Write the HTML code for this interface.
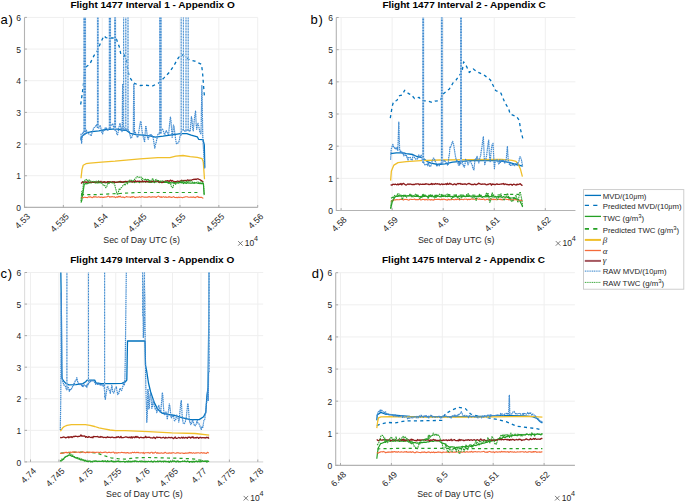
<!DOCTYPE html>
<html><head><meta charset="utf-8"><style>
html,body{margin:0;padding:0;background:#fff;}
svg{display:block;}
text{font-family:"Liberation Sans", sans-serif;fill:#262626;}
.tk{font-size:8.5px;}
.tt{font-size:9.2px;font-weight:bold;fill:#000;}
.xl{font-size:8.5px;}
.pl{font-size:13px;fill:#000;letter-spacing:0.6px;}
.lg{font-size:7.8px;}
</style></head><body>
<svg width="685" height="502" viewBox="0 0 685 502">
<path d="M24.50 207.40H257.70M24.50 175.73H257.70M24.50 144.07H257.70M24.50 112.40H257.70M24.50 80.73H257.70M24.50 49.07H257.70M24.50 17.40H257.70M24.50 17.40V207.40M63.37 17.40V207.40M102.23 17.40V207.40M141.10 17.40V207.40M179.97 17.40V207.40M218.83 17.40V207.40M257.70 17.40V207.40" stroke="#efefef" stroke-width="1.0" fill="none"/>
<path d="M336.30 210.50H575.40M336.30 178.33H575.40M336.30 146.17H575.40M336.30 114.00H575.40M336.30 81.83H575.40M336.30 49.67H575.40M336.30 17.50H575.40M341.10 17.50V210.50M392.15 17.50V210.50M443.20 17.50V210.50M494.25 17.50V210.50M545.30 17.50V210.50" stroke="#efefef" stroke-width="1.0" fill="none"/>
<path d="M24.60 461.90H263.20M24.60 430.33H263.20M24.60 398.77H263.20M24.60 367.20H263.20M24.60 335.63H263.20M24.60 304.07H263.20M24.60 272.50H263.20M30.50 272.50V461.90M58.91 272.50V461.90M87.33 272.50V461.90M115.74 272.50V461.90M144.15 272.50V461.90M172.56 272.50V461.90M200.98 272.50V461.90M229.39 272.50V461.90M257.80 272.50V461.90" stroke="#efefef" stroke-width="1.0" fill="none"/>
<path d="M335.70 465.40H574.90M335.70 433.28H574.90M335.70 401.17H574.90M335.70 369.05H574.90M335.70 336.93H574.90M335.70 304.82H574.90M335.70 272.70H574.90M340.50 272.70V465.40M391.40 272.70V465.40M442.30 272.70V465.40M493.20 272.70V465.40M544.10 272.70V465.40" stroke="#efefef" stroke-width="1.0" fill="none"/>
<path d="M24.50 17.40V207.40H257.70" stroke="#b3b3b3" stroke-width="1.1" fill="none"/>
<path d="M24.50 207.40h2.4M24.50 175.73h2.4M24.50 144.07h2.4M24.50 112.40h2.4M24.50 80.73h2.4M24.50 49.07h2.4M24.50 17.40h2.4M24.50 207.40v-2.4M63.37 207.40v-2.4M102.23 207.40v-2.4M141.10 207.40v-2.4M179.97 207.40v-2.4M218.83 207.40v-2.4M257.70 207.40v-2.4" stroke="#aaaaaa" stroke-width="1" fill="none"/>
<path d="M336.30 17.50V210.50H575.40" stroke="#b3b3b3" stroke-width="1.1" fill="none"/>
<path d="M336.30 210.50h2.4M336.30 178.33h2.4M336.30 146.17h2.4M336.30 114.00h2.4M336.30 81.83h2.4M336.30 49.67h2.4M336.30 17.50h2.4M341.10 210.50v-2.4M392.15 210.50v-2.4M443.20 210.50v-2.4M494.25 210.50v-2.4M545.30 210.50v-2.4" stroke="#aaaaaa" stroke-width="1" fill="none"/>
<path d="M24.60 272.50V461.90H263.20" stroke="#dedede" stroke-width="1.1" fill="none"/>
<path d="M24.60 461.90h2.4M24.60 430.33h2.4M24.60 398.77h2.4M24.60 367.20h2.4M24.60 335.63h2.4M24.60 304.07h2.4M24.60 272.50h2.4M30.50 461.90v-2.4M58.91 461.90v-2.4M87.33 461.90v-2.4M115.74 461.90v-2.4M144.15 461.90v-2.4M172.56 461.90v-2.4M200.98 461.90v-2.4M229.39 461.90v-2.4M257.80 461.90v-2.4" stroke="#aaaaaa" stroke-width="1" fill="none"/>
<path d="M335.70 272.70V465.40H574.90" stroke="#b3b3b3" stroke-width="1.1" fill="none"/>
<path d="M335.70 465.40h2.4M335.70 433.28h2.4M335.70 401.17h2.4M335.70 369.05h2.4M335.70 336.93h2.4M335.70 304.82h2.4M335.70 272.70h2.4M340.50 465.40v-2.4M391.40 465.40v-2.4M442.30 465.40v-2.4M493.20 465.40v-2.4M544.10 465.40v-2.4" stroke="#aaaaaa" stroke-width="1" fill="none"/>
<defs>
<clipPath id="cpa"><rect x="24.5" y="17.4" width="233.20" height="191.50"/></clipPath>
<clipPath id="cpb"><rect x="336.3" y="17.5" width="239.10" height="194.50"/></clipPath>
<clipPath id="cpc"><rect x="24.6" y="272.5" width="238.60" height="190.90"/></clipPath>
<clipPath id="cpd"><rect x="335.7" y="272.7" width="239.20" height="194.20"/></clipPath>
</defs>
<g clip-path="url(#cpa)">
<polyline points="81.0,140.3 81.1,137.4 83.6,134.9 87.1,132.7 91.9,131.7 98.9,130.8 105.9,129.5 112.8,129.2 117.7,129.2 122.0,130.1 126.5,130.4 130.3,133.3 135.9,134.6 142.9,135.2 149.8,135.8 155.3,137.1 163.1,136.2 171.9,134.9 180.6,133.6 186.8,133.6 191.2,135.2 197.3,136.8 198.6,139.3 203.0,139.6 204.3,145.0 204.8,167.8" fill="none" stroke-linejoin="round" stroke="#0072bd" stroke-width="1.3"/>
<polyline points="80.6,104.5 81.0,102.6 83.1,87.4 84.9,69.7 86.5,66.5 89.7,64.3 94.1,55.4 97.4,51.0 100.7,42.4 104.0,35.8 106.0,37.7 108.3,38.0 116.0,38.0 119.3,46.8 120.8,54.1 123.6,54.1 126.5,58.9 127.4,67.4 129.1,76.3 133.5,83.0 140.0,85.5 145.5,85.2 152.1,86.1 158.7,83.0 164.2,77.6 169.7,71.9 174.1,65.2 178.5,57.6 181.7,54.4 186.1,57.6 189.4,59.8 194.8,61.1 201.4,64.3 202.5,71.9 204.0,91.5 204.5,96.6" fill="none" stroke-linejoin="round" stroke="#0072bd" stroke-width="1.3" stroke-dasharray="3.1 3.2"/>
<polyline points="81.0,202.6 81.8,200.3 82.6,195.2 83.4,189.8 84.2,184.3 85.0,183.9 85.8,183.5 86.6,183.8 87.4,183.6 88.2,183.0 89.0,183.1 89.8,182.5 90.6,182.8 91.4,182.8 92.2,182.5 93.0,182.3 93.8,182.4 94.6,182.4 95.4,182.9 96.2,182.8 97.0,182.3 97.8,183.0 98.6,182.6 99.4,182.4 100.2,182.8 101.0,182.4 101.8,182.6 102.6,182.2 103.4,182.4 104.2,182.6 105.0,182.6 105.8,182.8 106.6,182.5 107.4,182.8 108.2,182.3 109.0,182.6 109.8,182.2 110.6,182.4 111.4,182.5 112.2,182.3 113.0,182.1 113.8,182.1 114.6,182.5 115.4,182.3 116.2,182.3 117.0,182.0 117.8,182.3 118.6,182.0 119.4,182.1 120.2,182.3 121.0,182.4 121.8,182.1 122.6,182.5 123.4,182.4 124.2,181.5 125.0,181.9 125.8,182.1 126.6,181.9 127.4,181.9 128.2,181.9 129.0,182.0 129.8,182.1 130.6,182.0 131.4,181.7 132.2,182.0 133.0,181.6 133.8,181.4 134.6,182.6 135.4,181.8 136.2,181.6 137.0,181.7 137.8,181.8 138.6,181.6 139.4,182.6 140.2,181.8 141.0,181.5 141.8,181.6 142.6,181.8 143.4,181.7 144.2,181.5 145.0,181.9 145.8,181.9 146.6,181.5 147.4,181.7 148.2,182.1 149.0,182.2 149.8,182.5 150.6,181.7 151.4,182.4 152.2,181.9 153.0,181.9 153.8,181.9 154.6,182.7 155.4,181.9 156.2,182.0 157.0,182.0 157.8,181.0 158.6,181.9 159.4,182.6 160.2,182.5 161.0,182.1 161.8,182.6 162.6,182.3 163.4,182.3 164.2,182.5 165.0,182.4 165.8,182.5 166.6,182.2 167.4,182.3 168.2,182.7 169.0,182.5 169.8,182.2 170.6,182.6 171.4,182.8 172.2,182.8 173.0,182.5 173.8,182.9 174.6,182.4 175.4,183.0 176.2,182.8 177.0,183.0 177.8,182.7 178.6,183.1 179.4,182.5 180.2,182.7 181.0,182.3 181.8,182.9 182.6,182.5 183.4,183.5 184.2,182.6 185.0,182.7 185.8,183.1 186.6,183.3 187.4,182.6 188.2,183.1 189.0,182.8 189.8,183.2 190.6,183.2 191.4,183.0 192.2,183.2 193.0,182.8 193.8,183.3 194.6,183.2 195.4,183.0 196.2,183.0 197.0,183.0 197.8,183.3 198.6,183.3 199.4,183.2 200.2,183.4 201.0,183.7 201.8,183.7 202.6,183.7 203.4,183.6 204.2,195.1" fill="none" stroke-linejoin="round" stroke="#24a024" stroke-width="1.2"/>
<polyline points="81.0,194.7 95.4,194.7 110.0,193.8 120.0,193.5 136.3,192.5 170.0,192.5 198.5,192.5" fill="none" stroke-linejoin="round" stroke="#24a024" stroke-width="1.2" stroke-dasharray="3.1 3.2"/>
<polyline points="81.0,178.3 82.0,169.4 83.2,165.3 86.0,163.7 90.0,163.1 101.6,162.1 115.0,161.2 126.1,160.2 140.0,158.9 157.9,157.7 169.9,157.7 175.8,156.1 183.0,155.5 190.2,156.7 197.3,157.4 202.1,158.6 203.3,162.1 204.5,179.2" fill="none" stroke-linejoin="round" stroke="#f0bf2a" stroke-width="1.3"/>
<polyline points="81.0,198.3 81.8,197.6 82.6,197.1 83.4,197.8 84.2,197.3 85.0,197.2 85.8,197.5 86.6,197.5 87.4,197.6 88.2,197.1 89.0,196.8 89.8,197.2 90.6,196.8 91.4,197.3 92.2,197.7 93.0,197.3 93.8,196.5 94.6,197.1 95.4,196.7 96.2,196.9 97.0,197.3 97.8,197.1 98.6,196.8 99.4,197.0 100.2,197.5 101.0,197.1 101.8,197.0 102.6,197.4 103.4,197.5 104.2,197.0 105.0,197.1 105.8,197.0 106.6,196.9 107.4,196.7 108.2,196.0 109.0,196.4 109.8,197.3 110.6,196.8 111.4,196.9 112.2,196.5 113.0,196.9 113.8,197.0 114.6,196.7 115.4,197.6 116.2,197.2 117.0,196.7 117.8,197.4 118.6,196.3 119.4,196.9 120.2,196.1 121.0,197.1 121.8,197.2 122.6,197.1 123.4,197.0 124.2,197.7 125.0,197.3 125.8,197.0 126.6,196.5 127.4,197.0 128.2,197.0 129.0,197.0 129.8,197.0 130.6,197.5 131.4,196.7 132.2,197.3 133.0,196.5 133.8,196.7 134.6,197.4 135.4,197.6 136.2,197.2 137.0,197.0 137.8,197.2 138.6,197.1 139.4,196.6 140.2,197.2 141.0,197.2 141.8,196.6 142.6,196.7 143.4,197.0 144.2,197.1 145.0,197.2 145.8,197.1 146.6,197.3 147.4,197.0 148.2,197.1 149.0,196.5 149.8,197.0 150.6,197.1 151.4,197.1 152.2,196.9 153.0,196.7 153.8,197.0 154.6,196.8 155.4,197.0 156.2,197.5 157.0,196.8 157.8,196.5 158.6,196.1 159.4,196.6 160.2,197.4 161.0,196.7 161.8,197.5 162.6,197.1 163.4,196.6 164.2,197.1 165.0,197.4 165.8,196.8 166.6,197.4 167.4,197.3 168.2,197.3 169.0,196.5 169.8,197.1 170.6,197.1 171.4,197.4 172.2,197.4 173.0,196.9 173.8,196.6 174.6,197.5 175.4,197.5 176.2,197.6 177.0,197.2 177.8,197.7 178.6,197.1 179.4,197.5 180.2,197.3 181.0,197.3 181.8,197.5 182.6,197.7 183.4,197.2 184.2,197.3 185.0,196.9 185.8,196.8 186.6,196.8 187.4,196.8 188.2,197.2 189.0,197.2 189.8,197.3 190.6,197.0 191.4,197.1 192.2,197.4 193.0,196.9 193.8,197.1 194.6,197.4 195.4,197.6 196.2,196.9 197.0,197.0 197.8,196.4 198.6,197.4 199.4,197.4 200.2,197.4 201.0,197.4 201.8,197.3 202.6,198.0 203.4,198.3" fill="none" stroke-linejoin="round" stroke="#f46a3a" stroke-width="1.1"/>
<polyline points="81.0,183.5 81.8,182.7 82.6,181.7 83.4,182.7 84.2,181.9 85.0,182.0 85.8,181.9 86.6,182.4 87.4,182.1 88.2,181.8 89.0,182.1 89.8,182.2 90.6,182.2 91.4,182.1 92.2,181.9 93.0,182.4 93.8,182.1 94.6,181.8 95.4,182.1 96.2,182.1 97.0,182.0 97.8,182.1 98.6,181.6 99.4,181.9 100.2,181.9 101.0,181.3 101.8,182.5 102.6,182.2 103.4,182.3 104.2,181.6 105.0,182.0 105.8,182.1 106.6,182.4 107.4,181.6 108.2,181.9 109.0,181.7 109.8,181.9 110.6,181.8 111.4,182.1 112.2,182.0 113.0,181.7 113.8,182.2 114.6,181.7 115.4,182.4 116.2,182.3 117.0,182.2 117.8,182.2 118.6,181.9 119.4,181.7 120.2,181.5 121.0,181.6 121.8,182.3 122.6,181.8 123.4,182.0 124.2,182.0 125.0,181.4 125.8,181.4 126.6,181.6 127.4,182.0 128.2,181.2 129.0,181.5 129.8,181.2 130.6,181.2 131.4,181.6 132.2,181.8 133.0,182.0 133.8,181.3 134.6,181.3 135.4,180.7 136.2,181.8 137.0,181.4 137.8,181.2 138.6,181.5 139.4,181.1 140.2,181.3 141.0,181.9 141.8,181.9 142.6,180.7 143.4,181.8 144.2,181.5 145.0,181.1 145.8,182.0 146.6,180.9 147.4,181.7 148.2,181.5 149.0,181.6 149.8,181.7 150.6,181.9 151.4,181.5 152.2,181.1 153.0,181.6 153.8,181.4 154.6,181.6 155.4,181.2 156.2,181.1 157.0,181.2 157.8,181.2 158.6,182.0 159.4,181.8 160.2,181.5 161.0,181.8 161.8,182.5 162.6,182.3 163.4,181.5 164.2,182.1 165.0,181.2 165.8,181.0 166.6,181.1 167.4,180.7 168.2,180.8 169.0,181.6 169.8,180.8 170.6,180.1 171.4,181.2 172.2,180.5 173.0,181.1 173.8,181.3 174.6,182.0 175.4,181.6 176.2,181.9 177.0,181.3 177.8,181.0 178.6,181.4 179.4,181.6 180.2,180.9 181.0,181.2 181.8,180.3 182.6,181.1 183.4,180.5 184.2,180.8 185.0,180.3 185.8,180.6 186.6,180.8 187.4,179.9 188.2,180.2 189.0,180.6 189.8,180.2 190.6,180.1 191.4,180.4 192.2,179.6 193.0,179.7 193.8,179.2 194.6,179.4 195.4,179.1 196.2,179.5 197.0,178.9 197.8,178.9 198.6,179.2 199.4,179.5 200.2,179.8 201.0,180.4 201.8,180.9 202.6,181.3 203.4,181.6" fill="none" stroke-linejoin="round" stroke="#8c1a1a" stroke-width="1.3"/>
<polyline points="81.0,133.6 81.6,143.2 82.2,137.5 82.8,132.1 83.4,131.9 84.0,134.7 84.6,134.6 85.2,132.8 85.8,132.1 86.4,130.1 87.0,132.1 87.6,132.8 88.2,133.3 88.8,133.9 89.4,134.6 90.0,134.8 90.6,135.0 91.2,135.9 91.8,133.3 92.4,131.8 93.0,130.2 93.6,128.1 94.2,127.5 94.8,127.3 95.4,126.6 96.0,125.6 96.6,124.7 97.2,126.9 97.8,128.2 98.4,128.1 99.0,128.0 99.6,126.7 100.2,125.1 100.8,127.5 101.4,130.7 102.0,133.3 102.6,133.8 103.2,130.9 103.8,130.7 104.4,130.1 105.0,128.4 105.6,127.4 106.2,128.0 106.8,129.3 107.4,129.8 108.0,130.8 108.6,128.9 109.2,128.1 109.8,127.2 110.4,125.6 111.0,125.4 111.6,125.3 112.2,124.2 112.8,123.8 113.4,126.3 114.0,128.6 114.6,128.6 115.2,130.4 115.8,129.3 116.4,131.3 117.0,134.9 117.6,134.7 118.2,131.8 118.8,127.7 119.4,125.7 120.0,123.1 120.6,126.6 121.2,129.5 121.8,131.6 122.2,130.9 122.6,83.9 123.0,83.9 123.4,129.1 123.6,129.0 124.2,127.6 124.8,129.4 125.4,129.2 126.0,130.3 126.6,128.7 127.2,128.9 127.8,128.6 128.4,130.3 129.0,130.6 129.6,133.1 130.2,135.7 130.8,138.2 131.4,138.1 132.0,136.6 132.6,134.8 133.2,134.1 133.3,133.8 133.7,83.9 134.1,83.9 134.5,132.7 135.0,131.7 135.6,132.9 136.2,134.1 136.8,135.3 137.4,137.5 138.0,136.5 138.6,133.1 139.2,129.5 139.8,125.6 140.4,121.7 141.0,121.3 141.6,127.1 142.2,132.3 142.8,134.3 143.4,137.6 144.0,139.6 144.6,142.2 145.2,132.6 145.8,125.7 146.4,128.8 147.0,133.6 147.6,137.9 148.2,139.3 148.8,137.2 149.4,136.1 150.0,134.3 150.6,136.0 151.2,134.6 151.8,135.0 152.4,136.5 153.0,136.6 153.6,140.6 154.2,144.4 154.8,148.2 155.4,144.8 156.0,143.2 156.6,140.1 157.2,137.9 157.8,134.6 158.4,133.9 159.0,133.1 159.6,133.8 160.2,132.8 160.8,132.2 161.4,130.1 162.0,129.6 162.6,129.2 163.2,130.7 163.8,132.1 164.4,134.6 165.0,134.2 165.6,132.5 166.2,130.6 166.8,131.6 167.4,132.8 168.0,134.2 168.6,134.3 169.2,127.9 169.8,122.2 170.4,117.1 171.0,120.7 171.6,129.2 172.2,137.5 172.8,133.3 173.4,125.0 174.0,125.7 174.6,131.4 175.2,136.2 175.8,140.4 176.4,143.6 177.0,142.8 177.6,143.2 178.2,142.8 178.8,142.1 179.4,139.7 180.0,136.2 180.6,135.2 181.2,131.9 181.8,130.7 182.4,130.0 183.0,129.9 183.6,130.1 184.2,130.5 184.8,131.2 185.4,130.4 186.0,131.0 186.6,130.6 187.2,129.9 187.8,130.2 188.4,129.4 189.0,130.9 189.6,131.3 190.2,130.7 190.8,123.8 191.4,116.6 192.0,119.3 192.6,127.9 193.2,130.9 193.8,125.4 194.4,118.9 195.0,114.3 195.6,111.0 196.2,125.1 196.8,129.3 197.4,124.1 198.0,123.3 198.6,125.7 199.2,128.3 199.8,131.8 200.4,133.1 201.0,133.8 201.3,117.8 201.9,85.5 202.5,120.3 202.8,137.9 203.4,148.0 204.0,157.0 204.6,168.7" fill="none" stroke-linejoin="round" stroke="#3f8ad0" stroke-width="1.2" stroke-dasharray="1.5 0.6"/>
<polyline points="81.0,201.0 81.8,191.3 82.6,195.2 83.4,182.6 84.2,180.5 85.0,180.3 85.8,179.2 86.6,179.9 87.4,179.6 88.2,182.0 89.0,179.7 89.8,181.4 90.6,181.0 91.4,181.7 92.2,182.0 93.0,181.4 93.8,181.3 94.6,182.2 95.4,182.1 96.2,181.2 97.0,182.2 97.8,182.6 98.6,180.8 99.4,181.5 100.2,182.5 101.0,182.4 101.8,182.9 102.6,184.2 103.4,185.4 104.2,185.3 105.0,185.7 105.8,187.7 106.6,187.1 107.4,184.6 108.2,183.0 109.0,183.5 109.8,182.5 110.6,181.8 111.4,182.5 112.2,182.9 113.0,182.8 113.8,183.8 114.6,183.9 115.4,187.8 116.2,190.5 117.0,193.8 117.8,194.8 118.6,191.3 119.4,188.3 120.2,189.3 121.0,187.9 121.8,187.1 122.6,186.0 123.4,185.3 124.2,184.2 125.0,185.4 125.8,183.3 126.6,182.7 127.4,183.9 128.2,181.6 129.0,181.5 129.8,180.0 130.6,180.8 131.4,180.4 132.2,180.0 133.0,180.9 133.8,179.7 134.6,179.5 135.4,178.0 136.2,178.0 137.0,176.6 137.8,176.9 138.6,177.6 139.4,177.3 140.2,177.0 141.0,176.9 141.8,179.9 142.6,178.3 143.4,178.9 144.2,179.6 145.0,180.4 145.8,178.7 146.6,180.8 147.4,179.4 148.2,178.9 149.0,181.3 149.8,180.4 150.6,181.2 151.4,180.1 152.2,179.1 153.0,178.8 153.8,181.8 154.6,180.9 155.4,180.0 156.2,179.3 157.0,180.3 157.8,181.3 158.6,180.5 159.4,180.8 160.2,181.0 161.0,181.5 161.8,180.8 162.6,181.0 163.4,181.4 164.2,181.6 165.0,182.6 165.8,182.1 166.6,180.9 167.4,182.1 168.2,183.5 169.0,182.3 169.8,183.9 170.6,183.7 171.4,186.7 172.2,187.8 173.0,187.3 173.8,183.9 174.6,182.2 175.4,184.4 176.2,183.7 177.0,182.2 177.8,182.9 178.6,182.2 179.4,182.2 180.2,181.7 181.0,180.9 181.8,181.7 182.6,180.9 183.4,181.9 184.2,181.2 185.0,183.1 185.8,182.6 186.6,180.9 187.4,182.1 188.2,181.2 189.0,181.3 189.8,180.7 190.6,181.1 191.4,181.0 192.2,182.0 193.0,182.5 193.8,182.6 194.6,182.4 195.4,183.0 196.2,182.5 197.0,182.1 197.8,181.9 198.6,182.3 199.4,183.6 200.2,182.2 201.0,182.1 201.8,181.5 202.6,182.1 203.4,183.2 204.2,194.3" fill="none" stroke-linejoin="round" stroke="#2ca02c" stroke-width="1.1" stroke-dasharray="1.5 0.7"/>
<path d="M84.70 131.93V7.90" stroke="#a9cbea" stroke-width="2.80" fill="none"/>
<path d="M84.70 131.93V7.90" stroke="#3f8ad0" stroke-width="2.38" stroke-dasharray="1.4 1.4" fill="none"/>
<path d="M97.80 128.03V7.90" stroke="#a9cbea" stroke-width="1.90" fill="none"/>
<path d="M97.80 128.03V7.90" stroke="#3f8ad0" stroke-width="1.61" stroke-dasharray="1.4 1.4" fill="none"/>
<path d="M109.90 128.67V7.90" stroke="#a9cbea" stroke-width="2.40" fill="none"/>
<path d="M109.90 128.67V7.90" stroke="#3f8ad0" stroke-width="2.04" stroke-dasharray="1.4 1.4" fill="none"/>
<path d="M115.10 130.32V7.90" stroke="#a9cbea" stroke-width="2.10" fill="none"/>
<path d="M115.10 130.32V7.90" stroke="#3f8ad0" stroke-width="1.78" stroke-dasharray="1.4 1.4" fill="none"/>
<path d="M123.60 129.73V7.90" stroke="#a9cbea" stroke-width="1.20" fill="none"/>
<path d="M123.60 129.73V7.90" stroke="#3f8ad0" stroke-width="1.02" stroke-dasharray="1.4 1.4" fill="none"/>
<path d="M125.80 129.35V7.90" stroke="#a9cbea" stroke-width="1.20" fill="none"/>
<path d="M125.80 129.35V7.90" stroke="#3f8ad0" stroke-width="1.02" stroke-dasharray="1.4 1.4" fill="none"/>
<path d="M128.00 130.51V7.90" stroke="#a9cbea" stroke-width="1.20" fill="none"/>
<path d="M128.00 130.51V7.90" stroke="#3f8ad0" stroke-width="1.02" stroke-dasharray="1.4 1.4" fill="none"/>
<path d="M160.40 133.47V7.90" stroke="#a9cbea" stroke-width="2.70" fill="none"/>
<path d="M160.40 133.47V7.90" stroke="#3f8ad0" stroke-width="2.29" stroke-dasharray="1.4 1.4" fill="none"/>
<path d="M181.20 135.41V7.90" stroke="#a9cbea" stroke-width="1.10" fill="none"/>
<path d="M181.20 135.41V7.90" stroke="#3f8ad0" stroke-width="0.93" stroke-dasharray="1.4 1.4" fill="none"/>
<path d="M183.40 130.43V7.90" stroke="#a9cbea" stroke-width="1.10" fill="none"/>
<path d="M183.40 130.43V7.90" stroke="#3f8ad0" stroke-width="0.93" stroke-dasharray="1.4 1.4" fill="none"/>
<path d="M186.00 130.56V7.90" stroke="#a9cbea" stroke-width="1.10" fill="none"/>
<path d="M186.00 130.56V7.90" stroke="#3f8ad0" stroke-width="0.93" stroke-dasharray="1.4 1.4" fill="none"/>
<path d="M188.20 130.67V7.90" stroke="#a9cbea" stroke-width="1.10" fill="none"/>
<path d="M188.20 130.67V7.90" stroke="#3f8ad0" stroke-width="0.93" stroke-dasharray="1.4 1.4" fill="none"/>
</g>
<g clip-path="url(#cpb)">
<polyline points="390.6,153.6 396.3,152.9 402.9,152.9 406.2,153.6 412.7,154.5 416.8,156.5 422.5,157.7 427.3,161.6 431.0,163.2 437.9,164.5 445.0,163.9 452.7,162.2 469.7,160.6 490.8,160.3 503.5,161.3 510.0,162.6 516.2,164.5 522.6,166.1" fill="none" stroke-linejoin="round" stroke="#0072bd" stroke-width="1.3"/>
<polyline points="390.3,118.2 392.2,106.3 393.5,101.8 396.8,100.5 399.5,95.7 402.1,95.0 404.7,90.2 408.7,93.7 411.3,94.7 414.6,98.6 419.2,97.3 420.5,99.2 424.4,100.8 427.0,100.8 432.3,102.4 434.9,101.1 440.2,100.5 443.5,93.7 449.4,88.9 453.3,82.5 456.0,80.2 458.8,76.0 462.0,72.2 463.6,61.9 466.7,66.7 469.3,72.5 473.3,69.0 477.2,71.9 483.8,74.8 490.4,79.9 495.6,90.5 500.9,93.1 504.8,102.4 508.7,108.9 510.1,114.0 516.6,116.6 519.3,120.4 520.6,129.8 522.8,138.4" fill="none" stroke-linejoin="round" stroke="#0072bd" stroke-width="1.3" stroke-dasharray="3.1 3.2"/>
<polyline points="390.6,208.8 391.4,205.4 392.2,202.0 393.0,200.7 393.8,198.9 394.6,197.6 395.4,196.6 396.2,196.4 397.0,196.4 397.8,196.4 398.6,195.8 399.4,196.0 400.2,196.1 401.0,195.7 401.8,195.9 402.6,195.6 403.4,195.8 404.2,196.2 405.0,195.7 405.8,196.3 406.6,195.9 407.4,195.8 408.2,195.5 409.0,196.0 409.8,195.8 410.6,195.9 411.4,195.9 412.2,196.0 413.0,196.0 413.8,195.9 414.6,196.3 415.4,196.4 416.2,196.5 417.0,196.3 417.8,196.4 418.6,196.4 419.4,196.5 420.2,196.7 421.0,196.4 421.8,196.5 422.6,196.7 423.4,196.4 424.2,196.5 425.0,196.2 425.8,196.2 426.6,196.4 427.4,196.6 428.2,196.4 429.0,196.2 429.8,196.0 430.6,196.3 431.4,196.6 432.2,196.0 433.0,196.3 433.8,196.5 434.6,196.0 435.4,196.7 436.2,195.9 437.0,196.4 437.8,196.2 438.6,196.1 439.4,196.6 440.2,196.5 441.0,196.9 441.8,196.5 442.6,196.1 443.4,196.5 444.2,195.8 445.0,196.2 445.8,196.6 446.6,196.3 447.4,196.6 448.2,196.4 449.0,196.4 449.8,196.4 450.6,196.4 451.4,196.5 452.2,196.3 453.0,196.7 453.8,197.1 454.6,196.2 455.4,196.2 456.2,196.2 457.0,196.8 457.8,196.9 458.6,196.0 459.4,196.4 460.2,196.2 461.0,196.2 461.8,197.0 462.6,196.0 463.4,196.3 464.2,196.1 465.0,196.5 465.8,196.3 466.6,196.1 467.4,196.3 468.2,196.3 469.0,196.3 469.8,196.2 470.6,196.2 471.4,196.1 472.2,196.1 473.0,196.2 473.8,196.3 474.6,196.7 475.4,196.4 476.2,196.3 477.0,196.6 477.8,196.1 478.6,196.3 479.4,196.3 480.2,196.6 481.0,196.3 481.8,197.1 482.6,196.9 483.4,196.6 484.2,196.6 485.0,196.7 485.8,196.8 486.6,196.6 487.4,196.5 488.2,196.6 489.0,196.5 489.8,196.8 490.6,196.5 491.4,196.4 492.2,196.8 493.0,196.8 493.8,196.9 494.6,197.0 495.4,196.4 496.2,196.8 497.0,197.2 497.8,196.6 498.6,196.5 499.4,197.0 500.2,196.6 501.0,196.9 501.8,197.0 502.6,197.3 503.4,196.6 504.2,196.9 505.0,197.0 505.8,197.0 506.6,197.0 507.4,197.5 508.2,197.1 509.0,197.3 509.8,197.9 510.6,198.2 511.4,198.0 512.2,198.0 513.0,197.8 513.8,197.9 514.6,198.4 515.4,198.4 516.2,199.3 517.0,198.8 517.8,199.6 518.6,199.9 519.4,200.7 520.2,201.4 521.0,203.3 521.8,204.8 522.6,207.0" fill="none" stroke-linejoin="round" stroke="#24a024" stroke-width="1.2"/>
<polyline points="391.0,198.3 394.7,196.3 401.3,195.4 430.0,195.4 460.0,195.1 490.0,195.4 510.0,194.4 519.0,194.4" fill="none" stroke-linejoin="round" stroke="#24a024" stroke-width="1.2" stroke-dasharray="3.1 3.2"/>
<polyline points="390.6,180.6 391.4,170.9 393.9,165.1 398.0,162.6 406.2,161.6 420.9,160.6 440.0,160.0 470.0,159.7 501.4,159.4 512.0,160.3 516.0,161.3 518.4,164.5 520.5,169.3 522.4,176.7" fill="none" stroke-linejoin="round" stroke="#f0bf2a" stroke-width="1.3"/>
<polyline points="390.6,201.3 391.4,201.2 392.2,200.6 393.0,200.2 393.8,199.9 394.6,199.8 395.4,199.9 396.2,199.8 397.0,199.5 397.8,199.7 398.6,199.8 399.4,199.8 400.2,199.3 401.0,199.5 401.8,199.3 402.6,199.5 403.4,200.1 404.2,199.5 405.0,199.4 405.8,199.5 406.6,199.4 407.4,199.6 408.2,199.9 409.0,200.2 409.8,199.3 410.6,199.2 411.4,199.4 412.2,199.5 413.0,199.5 413.8,199.3 414.6,199.0 415.4,199.8 416.2,199.5 417.0,199.8 417.8,199.5 418.6,199.6 419.4,199.0 420.2,199.5 421.0,200.1 421.8,199.6 422.6,199.4 423.4,199.5 424.2,199.3 425.0,200.1 425.8,199.4 426.6,199.5 427.4,199.9 428.2,199.7 429.0,199.7 429.8,199.5 430.6,200.2 431.4,199.5 432.2,200.1 433.0,199.6 433.8,200.2 434.6,199.2 435.4,199.4 436.2,199.5 437.0,199.3 437.8,199.4 438.6,199.2 439.4,199.4 440.2,199.6 441.0,199.8 441.8,199.0 442.6,199.7 443.4,199.2 444.2,199.1 445.0,199.6 445.8,199.6 446.6,200.0 447.4,200.1 448.2,199.2 449.0,199.9 449.8,199.6 450.6,199.8 451.4,199.6 452.2,199.5 453.0,199.4 453.8,199.8 454.6,199.8 455.4,199.1 456.2,199.7 457.0,199.1 457.8,199.5 458.6,199.0 459.4,200.0 460.2,199.5 461.0,199.5 461.8,199.2 462.6,199.5 463.4,199.7 464.2,199.1 465.0,199.2 465.8,199.2 466.6,199.1 467.4,199.9 468.2,199.1 469.0,199.6 469.8,199.4 470.6,199.5 471.4,198.8 472.2,199.1 473.0,199.0 473.8,199.3 474.6,199.2 475.4,199.0 476.2,199.5 477.0,198.4 477.8,199.1 478.6,199.2 479.4,198.9 480.2,199.1 481.0,199.6 481.8,199.3 482.6,199.5 483.4,198.9 484.2,199.3 485.0,200.0 485.8,199.8 486.6,199.3 487.4,199.4 488.2,199.4 489.0,200.1 489.8,199.7 490.6,198.9 491.4,199.4 492.2,199.6 493.0,198.9 493.8,199.7 494.6,199.3 495.4,199.4 496.2,199.7 497.0,199.6 497.8,199.0 498.6,199.3 499.4,199.5 500.2,199.0 501.0,199.8 501.8,199.4 502.6,199.9 503.4,199.5 504.2,199.0 505.0,199.0 505.8,199.1 506.6,199.5 507.4,199.5 508.2,199.3 509.0,200.0 509.8,199.5 510.6,199.5 511.4,199.7 512.2,199.9 513.0,199.7 513.8,199.9 514.6,199.7 515.4,199.6 516.2,199.6 517.0,200.1 517.8,200.0 518.6,199.9 519.4,200.2 520.2,200.0 521.0,200.7 521.8,200.5 522.6,200.5" fill="none" stroke-linejoin="round" stroke="#f46a3a" stroke-width="1.1"/>
<polyline points="390.6,185.1 391.4,184.8 392.2,185.0 393.0,184.2 393.8,184.3 394.6,184.5 395.4,184.2 396.2,184.5 397.0,184.9 397.8,184.0 398.6,184.8 399.4,184.0 400.2,184.3 401.0,183.5 401.8,184.9 402.6,183.9 403.4,183.4 404.2,183.9 405.0,184.5 405.8,185.1 406.6,184.8 407.4,184.2 408.2,184.0 409.0,184.5 409.8,184.0 410.6,184.1 411.4,184.4 412.2,184.7 413.0,184.5 413.8,184.4 414.6,184.5 415.4,184.0 416.2,184.2 417.0,183.9 417.8,183.9 418.6,184.0 419.4,184.7 420.2,184.0 421.0,184.3 421.8,184.4 422.6,184.1 423.4,184.4 424.2,184.1 425.0,184.4 425.8,183.7 426.6,184.0 427.4,184.2 428.2,184.2 429.0,184.6 429.8,184.3 430.6,184.4 431.4,183.5 432.2,184.5 433.0,183.7 433.8,184.2 434.6,184.3 435.4,183.5 436.2,183.8 437.0,184.1 437.8,183.7 438.6,184.2 439.4,184.0 440.2,184.8 441.0,184.3 441.8,183.8 442.6,184.6 443.4,184.1 444.2,184.3 445.0,184.2 445.8,183.7 446.6,184.6 447.4,183.2 448.2,184.4 449.0,184.2 449.8,183.3 450.6,184.0 451.4,184.0 452.2,184.5 453.0,184.8 453.8,184.2 454.6,183.8 455.4,184.3 456.2,184.9 457.0,184.0 457.8,183.4 458.6,183.9 459.4,183.7 460.2,183.5 461.0,184.3 461.8,183.8 462.6,184.4 463.4,184.0 464.2,184.3 465.0,183.7 465.8,184.3 466.6,184.6 467.4,183.8 468.2,183.8 469.0,183.3 469.8,183.9 470.6,184.2 471.4,184.6 472.2,184.4 473.0,184.6 473.8,184.5 474.6,183.9 475.4,184.4 476.2,184.8 477.0,184.3 477.8,183.9 478.6,183.2 479.4,183.6 480.2,184.0 481.0,184.1 481.8,184.4 482.6,184.0 483.4,184.2 484.2,184.2 485.0,183.9 485.8,184.6 486.6,184.8 487.4,184.3 488.2,184.5 489.0,183.9 489.8,183.8 490.6,183.7 491.4,185.2 492.2,183.9 493.0,184.5 493.8,184.1 494.6,184.6 495.4,184.6 496.2,184.2 497.0,183.9 497.8,184.4 498.6,184.4 499.4,184.3 500.2,184.1 501.0,184.2 501.8,184.0 502.6,183.9 503.4,183.5 504.2,184.6 505.0,183.9 505.8,184.2 506.6,184.5 507.4,184.5 508.2,184.6 509.0,185.0 509.8,184.4 510.6,184.3 511.4,184.5 512.2,185.2 513.0,184.5 513.8,184.1 514.6,184.5 515.4,184.9 516.2,185.0 517.0,184.1 517.8,184.6 518.6,184.3 519.4,184.1 520.2,183.7 521.0,184.5 521.8,185.3 522.6,185.4" fill="none" stroke-linejoin="round" stroke="#8c1a1a" stroke-width="1.3"/>
<polyline points="390.6,159.8 391.2,149.1 391.8,147.6 392.4,145.2 393.0,144.5 393.6,147.0 394.2,147.3 394.8,148.7 395.4,148.8 396.0,147.7 396.6,149.0 397.2,147.4 397.8,150.5 398.3,136.8 398.8,122.0 399.3,138.6 399.6,149.1 400.2,151.4 400.8,150.8 401.4,153.4 402.0,151.9 402.6,154.3 403.2,154.1 403.8,155.9 404.4,152.4 405.0,154.9 405.6,155.4 406.2,154.8 406.8,157.6 407.4,157.1 408.0,160.2 408.6,157.5 409.2,158.1 409.8,157.9 410.4,157.4 411.0,159.6 411.6,159.1 412.2,159.8 412.8,156.7 413.4,154.5 414.0,156.2 414.6,157.7 415.2,158.3 415.8,159.2 416.4,159.4 417.0,159.3 417.6,158.0 418.2,158.0 418.8,154.8 419.4,157.3 420.0,156.9 420.6,155.7 421.2,155.1 421.8,157.7 422.4,160.2 423.0,161.7 423.6,163.0 424.2,162.9 424.8,164.9 425.4,164.1 426.0,164.6 426.6,163.8 427.2,163.8 427.8,165.8 428.4,162.5 429.0,164.9 429.6,166.0 430.2,166.7 430.8,166.1 431.4,164.0 432.0,161.6 432.6,160.4 433.2,158.1 433.8,158.3 434.4,158.4 435.0,160.9 435.6,162.0 436.2,164.0 436.8,166.5 437.4,165.2 438.0,164.2 438.6,164.0 439.2,165.8 439.8,163.8 440.4,163.6 441.0,164.0 441.6,161.1 442.2,163.5 442.8,162.1 443.4,160.8 444.0,160.4 444.6,161.8 445.2,161.2 445.8,162.1 446.4,163.3 447.0,163.7 447.6,165.2 448.2,164.9 448.8,156.7 449.4,154.7 450.0,146.6 450.6,147.2 451.2,145.2 451.8,144.0 452.1,142.6 452.7,141.3 453.3,143.7 453.6,144.0 454.2,148.4 454.8,152.1 455.4,156.2 456.0,158.8 456.6,160.5 457.2,160.1 457.8,162.5 458.4,165.1 459.0,161.8 459.6,165.2 460.2,161.1 460.8,164.1 461.4,161.9 462.0,160.8 462.6,163.3 463.2,165.9 463.8,165.3 464.4,167.2 465.0,164.5 465.6,159.3 466.2,160.4 466.8,161.1 467.4,162.3 468.0,164.9 468.6,163.3 469.2,162.2 469.8,160.9 470.4,160.5 471.0,162.2 471.6,164.2 472.2,165.0 472.8,167.8 473.4,169.3 474.0,169.8 474.6,163.2 475.2,158.6 475.8,158.6 476.4,159.2 477.0,156.3 477.6,157.8 478.2,160.4 478.8,163.0 479.4,160.7 480.0,157.3 480.6,156.1 481.2,150.9 481.8,148.1 482.4,143.2 482.8,139.9 483.4,136.8 484.0,151.4 484.2,157.0 484.8,164.7 485.4,161.9 486.0,158.5 486.6,155.8 487.2,150.7 487.8,145.8 488.1,143.5 488.7,140.1 489.3,151.7 489.6,157.3 490.2,161.6 490.8,154.9 491.4,149.1 492.0,145.0 492.4,144.2 493.0,143.3 493.6,154.7 493.8,158.3 494.4,168.6 495.0,162.9 495.6,160.7 496.2,159.7 496.8,159.5 497.4,160.1 498.0,161.6 498.6,163.8 499.2,164.3 499.8,159.5 500.4,162.3 501.0,161.4 501.6,160.4 502.2,161.2 502.8,159.5 503.4,161.8 504.0,160.6 504.6,163.5 505.2,161.1 505.8,161.5 506.4,157.4 506.9,151.8 507.4,146.5 507.9,155.1 508.2,160.2 508.8,162.3 509.4,164.6 510.0,163.1 510.6,165.5 511.2,164.7 511.8,165.1 512.4,164.4 513.0,165.1 513.6,164.4 514.2,165.3 514.8,165.7 515.4,163.7 516.0,164.0 516.6,163.8 517.2,163.2 517.8,165.0 518.4,161.7 519.0,161.1 519.6,157.1 520.2,156.6 520.8,158.1 521.4,159.6 522.0,162.8 522.6,166.4" fill="none" stroke-linejoin="round" stroke="#3f8ad0" stroke-width="1.2" stroke-dasharray="1.5 0.6"/>
<polyline points="390.6,208.1 391.4,201.4 392.2,200.2 393.0,200.4 393.8,197.2 394.6,195.6 395.4,195.3 396.2,196.1 397.0,195.3 397.8,193.5 398.6,193.8 399.4,194.2 400.2,195.3 401.0,195.0 401.8,198.5 402.6,199.5 403.4,195.9 404.2,195.7 405.0,195.9 405.8,196.4 406.6,197.3 407.4,196.1 408.2,196.0 409.0,195.8 409.8,194.2 410.6,193.9 411.4,196.8 412.2,195.8 413.0,197.0 413.8,195.6 414.6,196.1 415.4,194.2 416.2,194.0 417.0,195.0 417.8,196.5 418.6,196.7 419.4,198.1 420.2,198.8 421.0,196.6 421.8,197.3 422.6,194.4 423.4,194.2 424.2,196.5 425.0,194.8 425.8,196.6 426.6,196.1 427.4,196.6 428.2,198.8 429.0,196.7 429.8,196.4 430.6,194.8 431.4,196.5 432.2,194.5 433.0,196.9 433.8,196.8 434.6,198.0 435.4,196.4 436.2,197.5 437.0,195.0 437.8,195.9 438.6,195.0 439.4,194.2 440.2,195.1 441.0,195.0 441.8,194.0 442.6,196.1 443.4,195.9 444.2,196.2 445.0,195.1 445.8,195.5 446.6,194.8 447.4,193.9 448.2,193.9 449.0,195.6 449.8,194.6 450.6,197.5 451.4,198.2 452.2,198.7 453.0,196.1 453.8,196.8 454.6,196.9 455.4,196.5 456.2,194.8 457.0,196.9 457.8,197.7 458.6,196.6 459.4,198.9 460.2,198.5 461.0,197.7 461.8,197.7 462.6,196.9 463.4,195.1 464.2,196.4 465.0,196.7 465.8,196.8 466.6,194.8 467.4,194.5 468.2,193.7 469.0,195.0 469.8,195.7 470.6,196.6 471.4,197.0 472.2,196.9 473.0,197.9 473.8,197.9 474.6,196.6 475.4,198.4 476.2,200.5 477.0,196.4 477.8,196.7 478.6,197.0 479.4,194.3 480.2,194.6 481.0,195.8 481.8,196.5 482.6,197.5 483.4,197.1 484.2,196.4 485.0,196.7 485.8,195.1 486.6,192.7 487.4,194.7 488.2,193.5 489.0,197.9 489.8,202.5 490.6,200.6 491.4,195.7 492.2,192.7 493.0,194.9 493.8,195.7 494.6,196.3 495.4,197.7 496.2,197.8 497.0,198.9 497.8,199.6 498.6,197.3 499.4,196.9 500.2,195.8 501.0,193.7 501.8,197.2 502.6,198.5 503.4,199.3 504.2,200.4 505.0,197.6 505.8,197.2 506.6,196.8 507.4,193.2 508.2,195.3 509.0,198.7 509.8,197.6 510.6,199.5 511.4,201.7 512.2,200.8 513.0,201.3 513.8,197.6 514.6,198.2 515.4,195.9 516.2,195.5 517.0,198.8 517.8,202.5 518.6,199.1 519.4,194.0 520.2,191.8 521.0,195.5 521.8,199.9 522.6,205.9" fill="none" stroke-linejoin="round" stroke="#2ca02c" stroke-width="1.1" stroke-dasharray="1.5 0.7"/>
<path d="M423.20 162.95V7.85" stroke="#a9cbea" stroke-width="2.00" fill="none"/>
<path d="M423.20 162.95V7.85" stroke="#3f8ad0" stroke-width="1.70" stroke-dasharray="1.4 1.4" fill="none"/>
<path d="M441.80 163.90V7.85" stroke="#a9cbea" stroke-width="2.00" fill="none"/>
<path d="M441.80 163.90V7.85" stroke="#3f8ad0" stroke-width="1.70" stroke-dasharray="1.4 1.4" fill="none"/>
<path d="M461.00 161.82V7.85" stroke="#a9cbea" stroke-width="2.00" fill="none"/>
<path d="M461.00 161.82V7.85" stroke="#3f8ad0" stroke-width="1.70" stroke-dasharray="1.4 1.4" fill="none"/>
</g>
<g clip-path="url(#cpc)">
<polyline points="60.6,256.7 61.3,304.1 61.8,367.2 62.0,378.2 63.4,380.8 66.1,383.6 68.9,384.9 75.9,384.6 82.9,383.6 85.7,381.7 87.1,380.1 94.7,380.1 96.1,383.0 101.0,383.6 110.7,383.6 121.9,383.3 125.4,381.7 126.8,380.1 127.5,341.0 144.5,341.0 145.0,341.3 145.5,365.0 146.6,370.7 148.5,383.0 150.5,391.5 152.0,395.9 154.3,402.6 157.5,408.9 161.9,413.0 168.5,414.5 175.1,415.5 181.7,417.7 190.4,419.6 199.2,419.6 203.6,416.8 205.8,412.3 206.9,395.9 208.0,388.0 208.8,319.9 209.1,256.7" fill="none" stroke-linejoin="round" stroke="#0072bd" stroke-width="1.3"/>
<polyline points="60.4,461.2 61.2,460.9 62.0,460.5 62.8,459.1 63.6,459.1 64.4,457.7 65.2,457.3 66.0,456.3 66.8,456.4 67.6,455.9 68.4,455.5 69.2,455.0 70.0,455.3 70.8,455.6 71.6,456.2 72.4,456.3 73.2,456.4 74.0,457.1 74.8,457.6 75.6,457.6 76.4,457.9 77.2,458.5 78.0,458.8 78.8,458.8 79.6,459.2 80.4,459.9 81.2,459.7 82.0,459.9 82.8,459.9 83.6,460.3 84.4,461.0 85.2,460.1 86.0,461.2 86.8,461.0 87.6,461.6 88.4,461.7 89.2,461.0 90.0,461.0 90.8,461.4 91.6,461.6 92.4,461.6 93.2,461.1 94.0,461.0 94.8,461.1 95.6,460.9 96.4,461.1 97.2,461.4 98.0,461.3 98.8,461.4 99.6,461.5 100.4,461.5 101.2,461.2 102.0,461.5 102.8,460.7 103.6,461.7 104.4,461.3 105.2,460.8 106.0,461.6 106.8,461.5 107.6,460.7 108.4,461.6 109.2,461.4 110.0,461.3 110.8,461.0 111.6,460.7 112.4,461.6 113.2,461.3 114.0,461.3 114.8,461.7 115.6,461.5 116.4,461.5 117.2,461.1 118.0,461.5 118.8,460.8 119.6,461.7 120.4,461.5 121.2,461.6 122.0,461.5 122.8,461.5 123.6,461.3 124.4,461.6 125.2,461.8 126.0,461.5 126.8,461.6 127.6,461.9 128.4,461.0 129.2,461.6 130.0,461.4 130.8,461.4 131.6,461.8 132.4,461.5 133.2,461.6 134.0,460.9 134.8,461.3 135.6,460.9 136.4,461.5 137.2,461.3 138.0,461.6 138.8,461.5 139.6,461.4 140.4,461.8 141.2,461.2 142.0,461.0 142.8,461.5 143.6,461.6 144.4,461.7 145.2,461.6 146.0,461.2 146.8,461.7 147.6,461.7 148.4,461.3 149.2,461.6 150.0,461.6 150.8,461.4 151.6,461.2 152.4,462.0 153.2,461.6 154.0,461.2 154.8,461.2 155.6,461.5 156.4,461.5 157.2,461.7 158.0,461.4 158.8,461.6 159.6,461.3 160.4,461.1 161.2,461.6 162.0,461.4 162.8,461.3 163.6,461.2 164.4,461.5 165.2,461.6 166.0,461.4 166.8,461.7 167.6,461.6 168.4,461.3 169.2,462.4 170.0,461.5 170.8,460.9 171.6,461.8 172.4,461.5 173.2,461.1 174.0,461.1 174.8,461.2 175.6,461.8 176.4,461.9 177.2,461.3 178.0,460.9 178.8,462.0 179.6,461.6 180.4,461.7 181.2,461.5 182.0,461.3 182.8,461.0 183.6,461.3 184.4,461.5 185.2,461.3 186.0,461.6 186.8,461.6 187.6,461.1 188.4,461.4 189.2,461.6 190.0,461.5 190.8,461.5 191.6,461.9 192.4,461.8 193.2,461.4 194.0,461.4 194.8,461.7 195.6,461.4 196.4,461.1 197.2,461.9 198.0,461.3 198.8,461.1 199.6,461.5 200.4,461.8 201.2,461.6 202.0,461.2 202.8,461.0 203.6,461.5 204.4,461.5 205.2,461.5 206.0,461.4 206.8,461.4 207.6,461.0 208.4,461.5 209.2,461.5" fill="none" stroke-linejoin="round" stroke="#24a024" stroke-width="1.2"/>
<polyline points="60.8,453.1 70.0,452.4 78.4,452.1 90.0,452.4 97.0,453.1 104.0,455.6 111.0,457.8 118.0,458.7 125.0,459.1 131.0,458.4 136.8,457.8 148.5,457.5 160.0,457.8 183.5,458.4 195.2,459.1 204.5,461.0 209.2,461.3" fill="none" stroke-linejoin="round" stroke="#24a024" stroke-width="1.2" stroke-dasharray="3.1 3.2"/>
<polyline points="60.4,431.3 60.8,430.6 62.5,428.1 64.3,426.5 67.0,425.3 71.4,424.7 85.4,424.7 90.0,425.3 94.7,426.5 99.0,427.8 104.0,428.8 110.0,430.0 115.7,430.6 125.0,430.6 148.5,431.6 171.8,432.9 195.2,433.5 209.2,435.1" fill="none" stroke-linejoin="round" stroke="#f0bf2a" stroke-width="1.3"/>
<polyline points="60.1,452.9 60.9,453.5 61.7,453.4 62.5,453.1 63.3,452.7 64.1,453.1 64.9,452.3 65.7,452.6 66.5,452.4 67.3,452.6 68.1,452.5 68.9,452.4 69.7,453.4 70.5,452.1 71.3,452.3 72.1,452.5 72.9,451.7 73.7,452.1 74.5,451.9 75.3,452.4 76.1,452.0 76.9,452.2 77.7,452.3 78.5,452.0 79.3,452.2 80.1,452.8 80.9,452.2 81.7,452.1 82.5,451.8 83.3,451.8 84.1,452.6 84.9,452.1 85.7,452.9 86.5,452.4 87.3,452.0 88.1,452.2 88.9,452.8 89.7,452.0 90.5,452.3 91.3,452.4 92.1,452.2 92.9,452.0 93.7,452.4 94.5,452.2 95.3,452.6 96.1,452.4 96.9,452.3 97.7,452.3 98.5,452.3 99.3,452.7 100.1,452.1 100.9,452.3 101.7,452.8 102.5,452.8 103.3,452.3 104.1,452.5 104.9,452.1 105.7,452.0 106.5,452.5 107.3,452.9 108.1,452.4 108.9,452.4 109.7,452.3 110.5,452.8 111.3,452.6 112.1,452.2 112.9,452.2 113.7,452.0 114.5,453.1 115.3,452.9 116.1,452.6 116.9,453.2 117.7,452.7 118.5,452.6 119.3,452.8 120.1,452.8 120.9,452.6 121.7,452.3 122.5,452.5 123.3,452.8 124.1,452.4 124.9,452.9 125.7,452.7 126.5,452.9 127.3,452.5 128.1,452.6 128.9,453.2 129.7,453.0 130.5,452.9 131.3,453.1 132.1,452.4 132.9,452.4 133.7,452.7 134.5,452.1 135.3,452.7 136.1,452.8 136.9,452.2 137.7,452.6 138.5,452.4 139.3,452.8 140.1,453.1 140.9,452.8 141.7,452.8 142.5,453.1 143.3,452.4 144.1,453.7 144.9,452.8 145.7,452.7 146.5,452.8 147.3,452.7 148.1,452.4 148.9,452.9 149.7,453.1 150.5,452.9 151.3,452.2 152.1,452.3 152.9,453.4 153.7,452.7 154.5,453.0 155.3,452.1 156.1,452.5 156.9,453.5 157.7,452.5 158.5,453.3 159.3,453.0 160.1,453.3 160.9,452.9 161.7,452.9 162.5,453.3 163.3,453.1 164.1,453.2 164.9,452.3 165.7,452.6 166.5,453.2 167.3,453.2 168.1,452.9 168.9,453.4 169.7,452.7 170.5,453.3 171.3,452.9 172.1,453.1 172.9,452.6 173.7,452.7 174.5,453.0 175.3,453.2 176.1,453.3 176.9,452.6 177.7,452.9 178.5,452.8 179.3,453.1 180.1,453.4 180.9,453.0 181.7,453.0 182.5,453.0 183.3,453.4 184.1,453.3 184.9,453.4 185.7,452.9 186.5,453.1 187.3,453.2 188.1,452.8 188.9,453.2 189.7,452.3 190.5,453.0 191.3,452.6 192.1,453.3 192.9,453.1 193.7,452.6 194.5,453.3 195.3,453.1 196.1,452.7 196.9,453.1 197.7,452.7 198.5,452.7 199.3,453.0 200.1,453.3 200.9,452.6 201.7,452.6 202.5,453.1 203.3,452.9 204.1,452.9 204.9,453.1 205.7,453.3 206.5,453.5 207.3,452.3 208.1,452.7 208.9,452.9" fill="none" stroke-linejoin="round" stroke="#f46a3a" stroke-width="1.1"/>
<polyline points="60.1,437.5 60.9,437.7 61.7,437.7 62.5,437.3 63.3,437.0 64.1,437.2 64.9,437.4 65.7,437.8 66.5,437.5 67.3,437.4 68.1,436.6 68.9,437.8 69.7,436.8 70.5,437.1 71.3,436.7 72.1,437.5 72.9,436.8 73.7,436.4 74.5,436.6 75.3,436.1 76.1,436.3 76.9,436.3 77.7,436.8 78.5,436.4 79.3,436.4 80.1,436.1 80.9,434.9 81.7,436.2 82.5,435.9 83.3,436.1 84.1,436.0 84.9,436.2 85.7,437.3 86.5,436.6 87.3,437.3 88.1,437.4 88.9,436.4 89.7,437.0 90.5,437.4 91.3,437.5 92.1,436.9 92.9,437.7 93.7,436.4 94.5,436.7 95.3,436.6 96.1,436.6 96.9,436.7 97.7,436.5 98.5,437.2 99.3,437.0 100.1,437.4 100.9,436.4 101.7,437.0 102.5,436.9 103.3,437.5 104.1,437.3 104.9,437.3 105.7,437.5 106.5,437.6 107.3,436.8 108.1,437.4 108.9,437.2 109.7,437.3 110.5,437.5 111.3,437.4 112.1,437.0 112.9,437.3 113.7,437.7 114.5,437.6 115.3,437.5 116.1,437.7 116.9,436.8 117.7,437.3 118.5,436.6 119.3,437.6 120.1,437.5 120.9,436.4 121.7,437.8 122.5,437.6 123.3,437.6 124.1,437.4 124.9,437.2 125.7,436.9 126.5,436.9 127.3,437.5 128.1,437.2 128.9,437.8 129.7,437.1 130.5,437.9 131.3,436.7 132.1,438.1 132.9,437.0 133.7,437.2 134.5,437.7 135.3,436.5 136.1,437.5 136.9,436.4 137.7,437.3 138.5,437.2 139.3,438.1 140.1,437.5 140.9,437.2 141.7,437.6 142.5,437.6 143.3,437.8 144.1,437.4 144.9,437.6 145.7,436.3 146.5,437.7 147.3,437.3 148.1,437.2 148.9,437.4 149.7,437.2 150.5,437.9 151.3,437.8 152.1,437.9 152.9,438.1 153.7,437.1 154.5,437.5 155.3,438.5 156.1,437.6 156.9,437.0 157.7,437.6 158.5,437.4 159.3,437.4 160.1,437.4 160.9,437.9 161.7,437.8 162.5,437.7 163.3,437.2 164.1,437.7 164.9,438.3 165.7,437.3 166.5,437.8 167.3,437.8 168.1,437.8 168.9,437.2 169.7,437.7 170.5,437.8 171.3,437.3 172.1,437.7 172.9,438.1 173.7,438.6 174.5,437.6 175.3,437.0 176.1,438.4 176.9,438.3 177.7,438.0 178.5,437.5 179.3,437.6 180.1,438.2 180.9,437.8 181.7,437.2 182.5,438.0 183.3,437.2 184.1,438.0 184.9,437.8 185.7,437.4 186.5,437.6 187.3,438.4 188.1,437.2 188.9,437.4 189.7,437.1 190.5,438.1 191.3,437.1 192.1,437.6 192.9,436.7 193.7,438.0 194.5,437.9 195.3,437.7 196.1,438.0 196.9,437.3 197.7,437.4 198.5,438.4 199.3,437.8 200.1,437.4 200.9,437.5 201.7,438.0 202.5,437.6 203.3,437.6 204.1,437.8 204.9,437.6 205.7,438.0 206.5,437.3 207.3,437.8 208.1,437.2 208.9,438.6" fill="none" stroke-linejoin="round" stroke="#8c1a1a" stroke-width="1.3"/>
<polyline points="60.3,430.0 60.8,397.3 61.3,293.1 61.8,375.8 62.3,379.2 62.8,381.5 63.3,383.1 63.8,385.0 64.3,385.2 64.8,385.0 65.3,386.1 65.8,386.8 66.3,389.6 66.8,389.8 67.3,387.3 67.8,388.2 68.3,387.5 68.8,388.8 69.3,391.3 69.8,389.5 70.3,389.8 70.8,389.4 71.3,389.6 71.8,388.0 72.3,387.4 72.8,385.6 73.3,385.5 73.8,383.4 74.3,384.5 74.8,382.1 75.3,380.8 75.8,380.8 76.3,379.8 76.8,377.7 77.3,380.0 77.8,382.4 78.3,382.8 78.8,384.3 79.3,383.8 79.8,385.0 80.3,384.5 80.8,383.9 81.3,385.3 81.8,384.3 82.3,386.3 82.8,385.7 83.3,386.6 83.8,385.1 84.3,384.6 84.8,385.2 85.3,386.0 85.8,385.2 86.3,385.9 86.8,387.4 87.3,383.8 87.8,385.2 88.3,383.4 88.8,382.5 89.3,381.9 89.8,382.6 90.3,381.9 90.8,381.0 91.3,381.4 91.8,381.2 92.3,380.0 92.8,380.0 93.3,381.1 93.8,381.3 94.3,381.8 94.8,382.7 95.3,383.3 95.8,384.4 96.3,383.1 96.8,384.1 97.3,384.4 97.8,384.3 98.3,384.1 98.8,383.2 99.3,384.8 99.8,384.9 100.3,384.5 100.8,385.7 101.3,384.0 101.8,384.5 102.3,384.9 102.8,385.9 103.3,385.2 103.8,385.1 104.3,388.4 104.8,393.6 105.3,399.5 105.8,396.0 106.3,392.5 106.8,389.6 107.3,386.9 107.8,386.3 108.3,388.4 108.8,388.8 109.3,390.5 109.8,390.9 110.3,393.3 110.8,390.3 111.3,388.5 111.8,385.4 112.3,388.3 112.8,392.1 113.3,392.6 113.8,393.0 114.3,392.1 114.8,389.2 115.3,388.5 115.8,387.7 116.3,386.7 116.8,389.9 117.3,392.5 117.8,394.6 118.3,393.2 118.8,393.3 119.3,391.5 119.8,388.6 120.3,388.3 120.8,389.8 121.3,390.6 121.8,390.2 122.3,388.3 122.8,386.8 123.3,384.8 123.8,382.8 124.3,384.8 124.8,383.3 125.3,356.7 125.8,314.9 126.3,272.4 126.8,263.0 127.3,264.2 127.8,263.4 128.3,265.0 128.8,264.0 129.3,261.8 129.8,263.5 130.3,262.7 130.8,262.4 131.3,263.5 131.8,262.5 132.3,262.8 132.8,262.4 133.3,263.6 133.8,264.4 134.3,264.0 134.8,263.6 135.3,262.5 135.8,263.2 136.3,263.4 136.8,263.2 137.3,262.0 137.8,263.6 138.3,261.6 138.8,264.2 139.3,263.6 139.8,262.2 140.3,262.5 140.8,263.8 141.3,263.1 141.8,263.7 142.3,262.2 142.8,283.6 143.3,337.4 143.8,328.9 144.3,282.3 144.8,296.2 145.3,351.4 145.8,385.4 146.3,403.4 146.8,422.3 147.3,414.8 147.8,388.9 148.3,390.5 148.8,409.0 149.3,408.4 149.8,396.7 150.3,393.4 150.8,394.4 151.3,399.6 151.8,408.3 152.3,407.7 152.8,402.2 153.3,399.2 153.8,402.8 154.3,405.9 154.8,408.3 155.3,409.1 155.8,408.0 156.3,409.6 156.8,412.7 157.3,410.6 157.8,408.6 158.3,406.7 158.8,405.4 159.3,407.3 159.8,408.9 160.3,412.4 160.8,411.9 161.3,405.1 161.8,399.7 162.3,392.7 162.8,395.1 163.3,404.8 163.8,411.3 164.3,414.0 164.8,414.6 165.3,414.4 165.8,411.8 166.3,412.5 166.8,415.3 167.3,419.4 167.8,415.4 168.3,411.9 168.8,408.3 169.3,403.8 169.8,406.1 170.3,409.8 170.8,415.6 171.3,417.8 171.8,416.2 172.3,415.7 172.8,416.3 173.3,415.6 173.8,417.5 174.3,420.3 174.8,420.8 175.3,419.7 175.8,419.6 176.3,416.5 176.8,415.0 177.3,417.4 177.8,418.1 178.3,418.3 178.8,422.1 179.3,419.7 179.8,413.3 180.3,408.3 180.8,402.3 181.3,400.6 181.8,409.6 182.3,417.3 182.8,421.0 183.3,423.3 183.8,423.8 184.3,423.6 184.8,422.8 185.3,421.7 185.8,419.5 186.3,416.9 186.8,412.4 187.3,407.6 187.8,403.4 188.3,405.9 188.8,413.0 189.3,419.8 189.8,422.6 190.3,422.4 190.8,424.7 191.3,424.0 191.8,422.5 192.3,420.8 192.8,419.9 193.3,422.6 193.8,423.1 194.3,425.0 194.8,424.7 195.3,425.8 195.8,425.0 196.3,423.7 196.8,421.2 197.3,420.4 197.8,422.9 198.3,423.2 198.8,423.6 199.3,424.6 199.8,425.4 200.3,427.7 200.8,427.9 201.3,429.5 201.8,427.6 202.3,426.4 202.8,427.4 203.3,424.2 203.8,420.8 204.3,419.7 204.8,419.3 205.3,414.3 205.8,412.7 206.3,404.8 206.8,401.4 207.3,395.6 207.8,388.6 208.3,400.4 208.8,353.4" fill="none" stroke-linejoin="round" stroke="#3f8ad0" stroke-width="1.2" stroke-dasharray="1.5 0.6"/>
<polyline points="60.1,461.3 60.9,460.1 61.7,459.0 62.5,459.9 63.3,459.4 64.1,458.5 64.9,456.7 65.7,456.8 66.5,456.5 67.3,455.7 68.1,455.2 68.9,454.6 69.7,453.7 70.5,453.4 71.3,455.0 72.1,455.5 72.9,455.1 73.7,456.6 74.5,456.6 75.3,457.6 76.1,457.4 76.9,457.8 77.7,457.5 78.5,457.8 79.3,458.4 80.1,458.3 80.9,459.3 81.7,458.9 82.5,460.0 83.3,459.7 84.1,459.7 84.9,460.4 85.7,460.9 86.5,461.3 87.3,461.3 88.1,461.0 88.9,461.1 89.7,461.6 90.5,462.0 91.3,461.4 92.1,462.0 92.9,461.8 93.7,461.8 94.5,461.3 95.3,461.5 96.1,461.4 96.9,461.5 97.7,461.8 98.5,461.4 99.3,461.1 100.1,461.6 100.9,461.4 101.7,461.6 102.5,461.3 103.3,461.4 104.1,461.3 104.9,461.5 105.7,461.1 106.5,461.7 107.3,461.7 108.1,461.8 108.9,461.4 109.7,461.8 110.5,461.8 111.3,461.4 112.1,461.2 112.9,461.4 113.7,462.4 114.5,461.9 115.3,461.9 116.1,462.0 116.9,461.7 117.7,461.0 118.5,461.7 119.3,461.8 120.1,461.4 120.9,461.6 121.7,461.5 122.5,461.8 123.3,461.6 124.1,461.4 124.9,462.2 125.7,462.1 126.5,461.2 127.3,461.3 128.1,461.7 128.9,461.9 129.7,461.6 130.5,462.0 131.3,461.7 132.1,461.1 132.9,461.5 133.7,461.2 134.5,461.7 135.3,461.5 136.1,461.1 136.9,462.0 137.7,461.7 138.5,461.6 139.3,461.5 140.1,461.1 140.9,461.4 141.7,462.1 142.5,461.7 143.3,461.9 144.1,461.9 144.9,460.9 145.7,461.9 146.5,461.5 147.3,461.8 148.1,461.3 148.9,461.5 149.7,461.5 150.5,461.6 151.3,461.2 152.1,461.9 152.9,461.8 153.7,461.9 154.5,461.2 155.3,461.7 156.1,461.9 156.9,461.7 157.7,460.8 158.5,461.6 159.3,461.3 160.1,461.4 160.9,461.6 161.7,461.8 162.5,461.7 163.3,461.7 164.1,462.3 164.9,460.8 165.7,461.3 166.5,461.5 167.3,461.6 168.1,461.8 168.9,461.3 169.7,461.6 170.5,461.4 171.3,462.0 172.1,461.5 172.9,461.0 173.7,461.7 174.5,461.3 175.3,461.6 176.1,461.2 176.9,461.2 177.7,461.6 178.5,461.8 179.3,461.5 180.1,461.6 180.9,461.8 181.7,461.4 182.5,461.4 183.3,461.9 184.1,461.6 184.9,460.7 185.7,461.3 186.5,461.6 187.3,460.8 188.1,461.7 188.9,462.4 189.7,462.2 190.5,462.1 191.3,461.5 192.1,461.3 192.9,462.3 193.7,461.2 194.5,462.0 195.3,461.5 196.1,461.4 196.9,461.4 197.7,461.6 198.5,461.5 199.3,461.9 200.1,461.5 200.9,461.3 201.7,461.3 202.5,460.8 203.3,461.2 204.1,461.4 204.9,461.1 205.7,461.5 206.5,462.0 207.3,462.3 208.1,461.2 208.9,461.4" fill="none" stroke-linejoin="round" stroke="#2ca02c" stroke-width="1.1" stroke-dasharray="1.5 0.7"/>
<path d="M66.90 389.62V263.03" stroke="#a9cbea" stroke-width="1.20" fill="none"/>
<path d="M66.90 389.62V263.03" stroke="#3f8ad0" stroke-width="1.02" stroke-dasharray="1.4 1.4" fill="none"/>
<path d="M88.50 384.48V263.03" stroke="#a9cbea" stroke-width="1.20" fill="none"/>
<path d="M88.50 384.48V263.03" stroke="#3f8ad0" stroke-width="1.02" stroke-dasharray="1.4 1.4" fill="none"/>
<path d="M104.60 397.16V263.03" stroke="#a9cbea" stroke-width="1.20" fill="none"/>
<path d="M104.60 397.16V263.03" stroke="#3f8ad0" stroke-width="1.02" stroke-dasharray="1.4 1.4" fill="none"/>
<path d="M142.60 315.84V263.03" stroke="#a9cbea" stroke-width="1.20" fill="none"/>
<path d="M142.60 315.84V263.03" stroke="#3f8ad0" stroke-width="1.02" stroke-dasharray="1.4 1.4" fill="none"/>
<path d="M144.50 318.29V263.03" stroke="#a9cbea" stroke-width="1.20" fill="none"/>
<path d="M144.50 318.29V263.03" stroke="#3f8ad0" stroke-width="1.02" stroke-dasharray="1.4 1.4" fill="none"/>
<path d="M209.10 372.17V263.03" stroke="#a9cbea" stroke-width="1.20" fill="none"/>
<path d="M209.10 372.17V263.03" stroke="#3f8ad0" stroke-width="1.02" stroke-dasharray="1.4 1.4" fill="none"/>
</g>
<g clip-path="url(#cpd)">
<polyline points="376.8,420.4 377.2,415.0 380.8,412.4 385.0,414.0 390.0,414.7 400.0,415.6 410.0,416.3 420.0,416.6 440.0,416.6 458.8,416.6 480.0,416.3 500.0,415.6 511.4,415.6 525.0,415.9 532.4,416.6 537.0,418.5 540.3,421.7 542.4,423.0" fill="none" stroke-linejoin="round" stroke="#0072bd" stroke-width="1.3"/>
<polyline points="376.8,425.6 380.8,424.0 387.9,422.4 395.1,423.0 400.0,422.0 405.9,420.8 420.0,420.8 441.7,420.4 445.3,414.0 452.3,409.8 458.8,407.3 465.4,408.6 470.6,414.0 477.2,415.9 485.1,417.2 495.6,419.2 506.1,421.7 516.6,426.2 527.1,427.5 537.6,428.8 542.4,430.4" fill="none" stroke-linejoin="round" stroke="#0072bd" stroke-width="1.3" stroke-dasharray="3.1 3.2"/>
<polyline points="376.8,458.8 377.6,452.1 378.4,447.6 379.2,446.2 380.0,444.7 380.8,443.4 381.6,443.5 382.4,443.0 383.2,442.7 384.0,442.5 384.8,441.7 385.6,442.4 386.4,441.0 387.2,441.1 388.0,441.0 388.8,441.0 389.6,441.1 390.4,441.3 391.2,440.5 392.0,441.0 392.8,441.3 393.6,441.2 394.4,440.7 395.2,441.1 396.0,440.2 396.8,440.7 397.6,441.0 398.4,440.7 399.2,441.4 400.0,441.3 400.8,440.9 401.6,441.2 402.4,440.8 403.2,441.5 404.0,441.2 404.8,441.2 405.6,440.5 406.4,440.9 407.2,441.1 408.0,441.6 408.8,441.8 409.6,441.5 410.4,441.8 411.2,441.7 412.0,442.2 412.8,442.2 413.6,442.7 414.4,442.7 415.2,442.5 416.0,442.9 416.8,443.2 417.6,442.9 418.4,443.2 419.2,442.8 420.0,442.3 420.8,443.1 421.6,442.3 422.4,442.6 423.2,442.2 424.0,442.4 424.8,442.2 425.6,442.3 426.4,442.3 427.2,441.8 428.0,441.9 428.8,441.9 429.6,441.5 430.4,441.3 431.2,440.9 432.0,441.2 432.8,441.5 433.6,441.3 434.4,440.6 435.2,441.0 436.0,440.6 436.8,440.8 437.6,440.6 438.4,441.0 439.2,440.8 440.0,441.7 440.8,442.2 441.6,442.6 442.4,443.3 443.2,443.3 444.0,443.6 444.8,443.9 445.6,444.6 446.4,445.2 447.2,445.6 448.0,446.3 448.8,446.7 449.6,447.0 450.4,447.1 451.2,446.8 452.0,446.8 452.8,446.8 453.6,447.0 454.4,447.1 455.2,447.5 456.0,447.9 456.8,447.1 457.6,447.6 458.4,447.2 459.2,447.0 460.0,447.1 460.8,447.0 461.6,446.8 462.4,446.3 463.2,446.7 464.0,446.7 464.8,446.9 465.6,446.6 466.4,446.8 467.2,446.3 468.0,446.4 468.8,446.0 469.6,445.9 470.4,446.5 471.2,445.7 472.0,445.5 472.8,445.6 473.6,444.9 474.4,445.3 475.2,445.3 476.0,445.6 476.8,445.0 477.6,444.7 478.4,444.2 479.2,444.8 480.0,444.0 480.8,443.9 481.6,443.6 482.4,443.3 483.2,443.1 484.0,443.1 484.8,443.0 485.6,442.5 486.4,442.1 487.2,442.4 488.0,441.7 488.8,441.2 489.6,442.0 490.4,441.0 491.2,441.1 492.0,441.0 492.8,440.7 493.6,440.6 494.4,440.5 495.2,440.1 496.0,439.8 496.8,439.8 497.6,439.5 498.4,439.3 499.2,438.8 500.0,438.3 500.8,438.2 501.6,438.4 502.4,437.9 503.2,437.0 504.0,437.3 504.8,437.2 505.6,437.4 506.4,436.5 507.2,436.7 508.0,436.2 508.8,435.9 509.6,436.7 510.4,436.0 511.2,435.9 512.0,435.0 512.8,435.2 513.6,435.3 514.4,435.4 515.2,435.1 516.0,435.3 516.8,435.0 517.6,435.4 518.4,434.8 519.2,434.7 520.0,434.8 520.8,434.5 521.6,434.6 522.4,434.9 523.2,434.8 524.0,434.8 524.8,434.9 525.6,434.5 526.4,434.5 527.2,434.0 528.0,434.5 528.8,434.7 529.6,434.4 530.4,434.3 531.2,434.7 532.0,434.1 532.8,434.5 533.6,434.7 534.4,434.2 535.2,434.8 536.0,434.5 536.8,434.0 537.6,433.9 538.4,434.1 539.2,434.3 540.0,434.4 540.8,434.6 541.6,434.3 542.4,433.9" fill="none" stroke-linejoin="round" stroke="#24a024" stroke-width="1.2"/>
<polyline points="377.2,449.0 380.8,448.7 400.0,448.4 440.0,448.4 480.0,448.7 520.0,448.7 542.4,448.7" fill="none" stroke-linejoin="round" stroke="#24a024" stroke-width="1.2" stroke-dasharray="3.1 3.2"/>
<polyline points="376.8,428.1 377.6,422.0 378.5,417.9 381.0,416.9 390.0,416.6 420.0,417.2 458.8,417.2 480.0,417.2 510.0,416.6 530.0,416.3 542.4,417.2" fill="none" stroke-linejoin="round" stroke="#f0bf2a" stroke-width="1.3"/>
<polyline points="376.8,452.6 377.6,452.7 378.4,453.2 379.2,452.4 380.0,452.4 380.8,451.7 381.6,451.8 382.4,452.0 383.2,451.4 384.0,451.7 384.8,452.0 385.6,452.8 386.4,452.4 387.2,452.1 388.0,452.5 388.8,451.8 389.6,452.2 390.4,452.0 391.2,452.3 392.0,451.5 392.8,452.3 393.6,451.8 394.4,451.5 395.2,451.7 396.0,452.3 396.8,451.8 397.6,452.3 398.4,451.6 399.2,452.0 400.0,452.2 400.8,451.9 401.6,451.7 402.4,452.0 403.2,452.2 404.0,451.9 404.8,451.8 405.6,452.0 406.4,451.5 407.2,452.3 408.0,452.0 408.8,452.1 409.6,452.1 410.4,451.7 411.2,452.5 412.0,451.9 412.8,451.9 413.6,452.1 414.4,452.8 415.2,452.6 416.0,452.4 416.8,451.8 417.6,452.1 418.4,452.3 419.2,452.5 420.0,452.5 420.8,452.7 421.6,452.1 422.4,452.1 423.2,452.4 424.0,451.9 424.8,452.1 425.6,452.4 426.4,452.6 427.2,452.1 428.0,452.4 428.8,451.8 429.6,452.3 430.4,452.7 431.2,452.1 432.0,452.4 432.8,452.5 433.6,451.9 434.4,452.7 435.2,452.3 436.0,452.5 436.8,452.4 437.6,452.1 438.4,451.9 439.2,452.2 440.0,452.0 440.8,452.4 441.6,452.6 442.4,452.7 443.2,451.9 444.0,452.2 444.8,452.3 445.6,452.3 446.4,451.9 447.2,452.1 448.0,452.2 448.8,452.2 449.6,452.6 450.4,451.8 451.2,452.0 452.0,452.2 452.8,451.9 453.6,452.2 454.4,452.0 455.2,452.1 456.0,452.1 456.8,452.0 457.6,452.0 458.4,451.9 459.2,451.9 460.0,451.8 460.8,452.3 461.6,452.2 462.4,452.3 463.2,451.7 464.0,452.0 464.8,452.1 465.6,452.3 466.4,451.7 467.2,451.6 468.0,452.3 468.8,452.0 469.6,451.8 470.4,452.1 471.2,451.3 472.0,451.9 472.8,452.1 473.6,451.9 474.4,451.8 475.2,451.5 476.0,451.7 476.8,452.0 477.6,451.9 478.4,451.8 479.2,451.8 480.0,452.0 480.8,452.0 481.6,451.8 482.4,451.8 483.2,451.5 484.0,451.4 484.8,452.1 485.6,452.3 486.4,452.0 487.2,452.5 488.0,451.7 488.8,451.9 489.6,451.4 490.4,451.9 491.2,451.9 492.0,452.2 492.8,451.9 493.6,451.8 494.4,452.7 495.2,452.0 496.0,451.9 496.8,451.8 497.6,452.3 498.4,452.0 499.2,451.8 500.0,451.9 500.8,452.1 501.6,451.3 502.4,451.9 503.2,451.9 504.0,451.6 504.8,451.9 505.6,451.7 506.4,451.9 507.2,452.0 508.0,451.6 508.8,452.4 509.6,452.0 510.4,451.6 511.2,451.9 512.0,452.0 512.8,451.9 513.6,452.2 514.4,451.8 515.2,452.3 516.0,452.2 516.8,452.0 517.6,451.9 518.4,452.0 519.2,452.0 520.0,451.9 520.8,451.9 521.6,451.8 522.4,451.8 523.2,451.8 524.0,452.2 524.8,451.9 525.6,451.6 526.4,452.2 527.2,452.1 528.0,452.3 528.8,451.6 529.6,451.7 530.4,451.8 531.2,452.4 532.0,451.8 532.8,452.3 533.6,451.5 534.4,452.0 535.2,451.6 536.0,451.8 536.8,452.4 537.6,452.0 538.4,452.0 539.2,452.1 540.0,451.9 540.8,452.3 541.6,451.8 542.4,452.1" fill="none" stroke-linejoin="round" stroke="#f46a3a" stroke-width="1.1"/>
<polyline points="376.8,439.3 377.6,440.3 378.4,440.8 379.2,440.3 380.0,439.4 380.8,439.9 381.6,440.1 382.4,440.0 383.2,439.9 384.0,439.6 384.8,440.0 385.6,439.5 386.4,440.2 387.2,440.0 388.0,440.2 388.8,440.0 389.6,439.2 390.4,440.7 391.2,440.6 392.0,440.3 392.8,439.6 393.6,439.9 394.4,440.4 395.2,440.0 396.0,440.6 396.8,440.5 397.6,440.3 398.4,439.8 399.2,440.1 400.0,440.0 400.8,439.5 401.6,440.2 402.4,439.5 403.2,440.4 404.0,439.2 404.8,440.6 405.6,440.9 406.4,440.0 407.2,440.2 408.0,439.8 408.8,439.8 409.6,440.7 410.4,440.1 411.2,439.1 412.0,440.3 412.8,439.5 413.6,440.1 414.4,440.3 415.2,440.6 416.0,440.4 416.8,440.8 417.6,439.5 418.4,440.2 419.2,440.5 420.0,439.8 420.8,440.6 421.6,440.0 422.4,439.9 423.2,439.8 424.0,440.0 424.8,439.7 425.6,440.3 426.4,439.9 427.2,439.7 428.0,440.1 428.8,439.8 429.6,441.2 430.4,440.0 431.2,440.0 432.0,440.3 432.8,439.9 433.6,439.4 434.4,440.0 435.2,439.9 436.0,440.4 436.8,440.5 437.6,440.3 438.4,440.7 439.2,440.3 440.0,440.0 440.8,440.4 441.6,440.4 442.4,440.6 443.2,439.9 444.0,440.3 444.8,440.2 445.6,440.1 446.4,439.8 447.2,440.6 448.0,440.4 448.8,439.8 449.6,440.4 450.4,440.1 451.2,439.2 452.0,440.7 452.8,440.1 453.6,439.9 454.4,439.6 455.2,440.2 456.0,440.7 456.8,440.6 457.6,440.3 458.4,440.9 459.2,439.4 460.0,440.6 460.8,439.7 461.6,440.0 462.4,440.2 463.2,440.1 464.0,440.8 464.8,440.3 465.6,440.0 466.4,440.2 467.2,440.0 468.0,440.0 468.8,439.7 469.6,440.4 470.4,440.0 471.2,439.7 472.0,440.2 472.8,440.3 473.6,439.8 474.4,439.7 475.2,440.3 476.0,440.4 476.8,439.9 477.6,439.7 478.4,440.3 479.2,440.4 480.0,439.8 480.8,439.0 481.6,440.1 482.4,440.2 483.2,440.4 484.0,439.6 484.8,440.1 485.6,440.7 486.4,440.6 487.2,440.5 488.0,440.2 488.8,440.0 489.6,439.7 490.4,440.4 491.2,439.8 492.0,440.5 492.8,439.8 493.6,439.9 494.4,439.8 495.2,440.5 496.0,440.2 496.8,440.0 497.6,439.3 498.4,439.7 499.2,439.5 500.0,439.7 500.8,439.4 501.6,439.8 502.4,439.2 503.2,439.7 504.0,439.8 504.8,439.3 505.6,439.3 506.4,439.8 507.2,439.3 508.0,440.0 508.8,439.4 509.6,440.3 510.4,439.4 511.2,440.1 512.0,439.5 512.8,439.5 513.6,439.6 514.4,440.3 515.2,439.8 516.0,439.7 516.8,439.5 517.6,439.8 518.4,439.8 519.2,439.1 520.0,439.7 520.8,439.3 521.6,440.5 522.4,440.1 523.2,439.8 524.0,439.9 524.8,439.8 525.6,439.2 526.4,438.9 527.2,439.4 528.0,439.7 528.8,439.9 529.6,439.7 530.4,438.5 531.2,439.4 532.0,439.5 532.8,439.2 533.6,438.5 534.4,439.2 535.2,438.4 536.0,439.1 536.8,439.3 537.6,439.2 538.4,439.1 539.2,439.2 540.0,439.4 540.8,438.7 541.6,438.5 542.4,438.7" fill="none" stroke-linejoin="round" stroke="#8c1a1a" stroke-width="1.3"/>
<polyline points="377.2,415.9 377.8,413.1 378.4,411.5 379.0,411.6 379.6,410.4 380.2,411.5 380.8,409.9 381.4,410.8 382.0,410.4 382.6,410.9 383.2,412.1 383.8,411.6 384.4,412.1 385.0,413.1 385.6,411.8 386.2,412.9 386.8,414.4 387.4,414.5 388.0,413.8 388.6,414.0 389.2,414.9 389.8,413.8 390.4,414.6 391.0,415.3 391.6,415.1 392.2,415.1 392.8,416.0 393.4,415.6 394.0,416.3 394.6,415.4 395.2,414.9 395.8,416.2 396.4,415.3 397.0,416.3 397.6,415.7 398.2,416.0 398.8,416.6 399.4,416.2 400.0,416.7 400.6,415.9 401.2,416.2 401.8,415.6 402.4,417.5 403.0,416.0 403.6,416.9 404.2,416.8 404.8,417.3 405.4,416.3 406.0,416.5 406.6,416.8 407.2,417.5 407.8,419.3 408.4,417.5 409.0,418.0 409.6,418.2 410.2,417.9 410.8,417.3 411.4,417.7 412.0,418.1 412.6,418.2 413.2,417.3 413.8,416.8 414.4,417.0 415.0,416.9 415.6,417.4 416.2,417.9 416.8,416.4 417.4,416.5 418.0,418.0 418.6,417.2 419.2,416.0 419.8,415.9 420.4,417.0 421.0,415.1 421.6,415.6 422.2,415.9 422.8,416.6 423.4,417.4 424.0,415.9 424.6,415.3 425.2,415.8 425.8,417.1 426.4,415.6 427.0,416.8 427.6,417.8 428.2,416.1 428.8,418.0 429.4,416.2 430.0,415.6 430.6,415.7 431.2,414.6 431.8,416.0 432.4,417.1 433.0,416.2 433.6,416.2 434.2,417.0 434.8,417.8 435.4,417.0 436.0,417.3 436.6,417.2 437.2,417.1 437.8,416.5 438.4,416.7 439.0,416.2 439.6,417.5 440.2,416.6 440.8,418.1 441.4,416.8 442.0,417.6 442.6,417.0 443.2,415.5 443.8,416.6 444.4,414.9 445.0,414.5 445.6,415.5 446.2,416.2 446.8,416.8 447.4,416.9 448.0,416.6 448.6,417.4 449.2,417.0 449.8,417.7 450.4,416.7 451.0,418.1 451.6,416.4 452.2,415.9 452.8,417.0 453.4,415.2 454.0,415.0 454.6,415.3 455.2,416.5 455.8,415.2 456.4,416.2 457.0,415.3 457.6,415.6 458.2,414.5 458.8,414.9 459.4,414.0 460.0,413.4 460.6,413.4 461.2,411.6 461.8,412.5 462.4,414.1 463.0,415.8 463.6,416.2 464.2,416.2 464.8,415.3 465.4,415.3 466.0,416.1 466.6,415.6 467.2,415.6 467.8,415.9 468.4,417.7 469.0,416.5 469.6,415.7 470.2,416.4 470.8,416.7 471.4,416.9 472.0,416.5 472.6,417.0 473.2,416.2 473.8,416.9 474.4,416.9 475.0,416.6 475.6,416.2 476.2,417.1 476.8,416.7 477.4,417.2 478.0,417.9 478.6,417.1 479.2,416.8 479.8,417.0 480.4,417.2 481.0,417.2 481.6,417.8 482.2,417.0 482.8,415.8 483.4,416.8 484.0,416.6 484.6,415.6 485.2,416.3 485.8,416.1 486.4,416.9 487.0,415.6 487.6,415.1 488.2,415.9 488.8,415.1 489.4,415.1 490.0,417.4 490.6,414.7 491.2,416.4 491.8,415.2 492.4,415.1 493.0,415.5 493.6,415.5 494.2,415.5 494.8,415.5 495.4,415.4 496.0,415.5 496.6,415.0 497.2,414.9 497.8,415.0 498.4,414.6 499.0,415.3 499.6,414.6 500.2,414.1 500.8,413.5 501.4,415.3 502.0,413.9 502.6,414.2 503.2,415.5 503.8,414.6 504.4,414.7 505.0,413.7 505.6,413.2 506.2,413.4 506.8,414.2 507.4,413.5 508.0,414.3 508.6,414.5 508.8,409.7 509.2,395.4 509.4,395.4 509.8,414.5 509.8,414.5 510.4,414.1 511.0,414.2 511.6,414.1 512.2,413.5 512.8,412.0 513.4,411.7 514.0,411.3 514.6,412.4 515.2,413.3 515.8,413.8 516.4,414.4 517.0,413.7 517.6,413.9 518.2,413.9 518.8,413.5 519.4,413.5 520.0,413.2 520.6,414.1 521.2,414.2 521.8,414.1 522.4,414.3 523.0,413.0 523.6,414.4 524.2,413.7 524.8,413.6 525.4,413.1 526.0,414.0 526.6,414.2 527.2,413.6 527.8,412.5 528.4,413.8 529.0,412.9 529.6,412.8 530.2,414.2 530.8,413.0 531.4,413.6 532.0,415.3 532.6,414.0 533.2,414.0 533.8,415.0 534.4,415.2 535.0,415.2 535.6,416.1 536.2,417.5 536.8,418.3 537.4,418.7 538.0,419.3 538.6,419.0 539.2,420.8 539.8,421.1 540.4,421.7 541.0,420.9 541.6,421.2 542.2,422.5" fill="none" stroke-linejoin="round" stroke="#3f8ad0" stroke-width="1.2" stroke-dasharray="1.5 0.6"/>
<polyline points="377.2,445.1 377.9,444.1 378.6,443.1 379.3,441.6 380.0,439.9 380.7,436.4 381.4,435.4 382.1,435.3 382.8,435.7 383.5,436.5 384.2,439.9 384.9,438.0 385.6,442.2 386.3,439.8 387.0,442.3 387.7,442.7 388.4,440.3 389.1,440.8 389.8,439.0 390.5,438.5 391.2,436.9 391.9,437.6 392.6,440.2 393.3,440.2 394.0,439.0 394.7,439.3 395.4,441.1 396.1,436.7 396.8,440.6 397.5,441.0 398.2,440.8 398.9,439.7 399.6,438.2 400.3,439.7 401.0,439.4 401.7,438.0 402.4,437.6 403.1,436.4 403.8,437.9 404.5,436.6 405.2,436.8 405.9,439.8 406.6,438.3 407.3,438.8 408.0,439.2 408.7,441.4 409.4,442.8 410.1,443.2 410.8,442.1 411.5,443.7 412.2,444.0 412.9,442.4 413.6,445.2 414.3,446.4 415.0,446.7 415.7,447.5 416.4,447.7 417.1,448.8 417.8,448.1 418.5,445.3 419.2,443.2 419.9,443.9 420.6,442.2 421.3,440.9 422.0,440.3 422.7,439.9 423.4,439.9 424.1,440.3 424.8,440.3 425.5,438.2 426.2,440.3 426.9,438.0 427.6,440.1 428.3,435.4 429.0,439.2 429.7,435.2 430.4,437.2 431.1,436.1 431.8,435.8 432.5,436.1 433.2,433.0 433.9,434.8 434.6,435.8 435.3,434.0 436.0,434.0 436.7,435.9 437.4,434.3 438.1,435.0 438.8,435.4 439.5,436.6 440.2,438.7 440.9,441.0 441.6,441.8 442.3,444.3 443.0,448.0 443.7,449.0 444.4,449.0 445.1,447.5 445.8,443.7 446.5,448.0 447.2,450.2 447.9,452.1 448.6,451.7 449.3,449.6 450.0,446.5 450.7,449.2 451.4,450.9 452.1,451.6 452.8,449.6 453.5,448.4 454.2,447.8 454.9,448.8 455.6,449.4 456.3,451.5 457.0,448.7 457.7,448.0 458.4,449.3 459.1,453.8 459.8,453.3 460.5,452.4 461.2,450.9 461.9,446.0 462.6,447.6 463.3,448.9 464.0,451.5 464.7,448.8 465.4,447.6 466.1,444.7 466.8,446.9 467.5,449.7 468.2,448.6 468.9,446.7 469.6,444.9 470.3,445.5 471.0,444.6 471.7,447.8 472.4,445.6 473.1,446.6 473.8,444.8 474.5,444.0 475.2,443.0 475.9,439.8 476.6,443.7 477.3,442.4 478.0,444.9 478.7,444.7 479.4,441.4 480.1,440.6 480.8,441.3 481.5,444.3 482.2,442.8 482.9,442.5 483.6,441.1 484.3,440.8 485.0,441.3 485.7,440.5 486.4,441.1 487.1,441.8 487.8,437.3 488.5,438.8 489.2,439.9 489.9,442.9 490.6,439.7 491.3,439.1 492.0,436.2 492.7,437.6 493.4,438.1 494.1,440.4 494.8,443.8 495.5,443.1 496.2,444.3 496.9,442.5 497.6,440.1 498.3,438.7 499.0,439.0 499.7,437.9 500.4,436.5 501.1,434.8 501.8,435.8 502.5,434.6 503.2,437.1 503.9,434.8 504.6,436.3 505.3,434.4 506.0,434.5 506.7,435.6 507.4,435.4 508.1,434.3 508.8,436.1 509.5,437.4 510.2,434.4 510.9,433.1 511.6,436.9 512.3,434.9 513.0,436.2 513.7,435.3 514.4,435.9 515.1,434.0 515.8,435.4 516.5,435.0 517.2,435.8 517.9,434.0 518.6,435.1 519.3,435.0 520.0,434.6 520.7,435.9 521.4,434.5 522.1,436.1 522.8,434.7 523.5,434.7 524.2,434.8 524.9,434.6 525.6,435.0 526.3,433.9 527.0,434.3 527.7,434.8 528.4,434.5 529.1,434.9 529.8,434.4 530.5,434.5 531.2,436.0 531.9,432.6 532.6,434.6 533.3,434.8 534.0,433.9 534.7,436.1 535.4,434.5 536.1,433.8 536.8,434.3 537.5,434.0 538.2,434.5 538.9,434.4 539.6,434.0 540.3,433.8 541.0,435.0 541.7,433.7 542.4,433.6" fill="none" stroke-linejoin="round" stroke="#2ca02c" stroke-width="1.1" stroke-dasharray="1.5 0.7"/>
</g>
<text x="21.10" y="211.00" text-anchor="end" class="tk">0</text>
<text x="21.10" y="179.33" text-anchor="end" class="tk">1</text>
<text x="21.10" y="147.67" text-anchor="end" class="tk">2</text>
<text x="21.10" y="116.00" text-anchor="end" class="tk">3</text>
<text x="21.10" y="84.33" text-anchor="end" class="tk">4</text>
<text x="21.10" y="52.67" text-anchor="end" class="tk">5</text>
<text x="21.10" y="21.00" text-anchor="end" class="tk">6</text>
<text transform="translate(30.70 217.10) rotate(-45)" text-anchor="end" class="tk" style="font-size:8.8px">4.53</text>
<text transform="translate(69.57 217.10) rotate(-45)" text-anchor="end" class="tk" style="font-size:8.8px">4.535</text>
<text transform="translate(108.43 217.10) rotate(-45)" text-anchor="end" class="tk" style="font-size:8.8px">4.54</text>
<text transform="translate(147.30 217.10) rotate(-45)" text-anchor="end" class="tk" style="font-size:8.8px">4.545</text>
<text transform="translate(186.17 217.10) rotate(-45)" text-anchor="end" class="tk" style="font-size:8.8px">4.55</text>
<text transform="translate(225.03 217.10) rotate(-45)" text-anchor="end" class="tk" style="font-size:8.8px">4.555</text>
<text transform="translate(263.90 217.10) rotate(-45)" text-anchor="end" class="tk" style="font-size:8.8px">4.56</text>
<text x="70.40" y="7.90" class="tt" textLength="164.3" lengthAdjust="spacingAndGlyphs">Flight 1477 Interval 1 - Appendix O</text>
<text x="103.30" y="242.50" class="xl" textLength="76.6" lengthAdjust="spacingAndGlyphs">Sec of Day UTC (s)</text>
<path d="M238.10 241.10L242.70 245.70M242.70 241.10L238.10 245.70" stroke="#505050" stroke-width="0.75" fill="none"/>
<text x="254.30" y="245.80" text-anchor="end" class="xl">10</text>
<text x="258.00" y="241.30" text-anchor="end" class="xl" style="font-size:7.2px">4</text>
<text x="0.60" y="23.90" class="pl">a)</text>
<text x="332.90" y="214.10" text-anchor="end" class="tk">0</text>
<text x="332.90" y="181.93" text-anchor="end" class="tk">1</text>
<text x="332.90" y="149.77" text-anchor="end" class="tk">2</text>
<text x="332.90" y="117.60" text-anchor="end" class="tk">3</text>
<text x="332.90" y="85.43" text-anchor="end" class="tk">4</text>
<text x="332.90" y="53.27" text-anchor="end" class="tk">5</text>
<text x="332.90" y="21.10" text-anchor="end" class="tk">6</text>
<text transform="translate(347.30 220.20) rotate(-45)" text-anchor="end" class="tk" style="font-size:8.8px">4.58</text>
<text transform="translate(398.35 220.20) rotate(-45)" text-anchor="end" class="tk" style="font-size:8.8px">4.59</text>
<text transform="translate(449.40 220.20) rotate(-45)" text-anchor="end" class="tk" style="font-size:8.8px">4.6</text>
<text transform="translate(500.45 220.20) rotate(-45)" text-anchor="end" class="tk" style="font-size:8.8px">4.61</text>
<text transform="translate(551.50 220.20) rotate(-45)" text-anchor="end" class="tk" style="font-size:8.8px">4.62</text>
<text x="382.40" y="7.90" class="tt" textLength="163.4" lengthAdjust="spacingAndGlyphs">Flight 1477 Interval 2 - Appendix C</text>
<text x="417.90" y="242.50" class="xl" textLength="76.6" lengthAdjust="spacingAndGlyphs">Sec of Day UTC (s)</text>
<path d="M555.80 241.10L560.40 245.70M560.40 241.10L555.80 245.70" stroke="#505050" stroke-width="0.75" fill="none"/>
<text x="572.00" y="245.80" text-anchor="end" class="xl">10</text>
<text x="575.70" y="241.30" text-anchor="end" class="xl" style="font-size:7.2px">4</text>
<text x="310.60" y="23.90" class="pl">b)</text>
<text x="21.20" y="465.50" text-anchor="end" class="tk">0</text>
<text x="21.20" y="433.93" text-anchor="end" class="tk">1</text>
<text x="21.20" y="402.37" text-anchor="end" class="tk">2</text>
<text x="21.20" y="370.80" text-anchor="end" class="tk">3</text>
<text x="21.20" y="339.23" text-anchor="end" class="tk">4</text>
<text x="21.20" y="307.67" text-anchor="end" class="tk">5</text>
<text x="21.20" y="276.10" text-anchor="end" class="tk">6</text>
<text transform="translate(36.70 471.60) rotate(-45)" text-anchor="end" class="tk" style="font-size:8.8px">4.74</text>
<text transform="translate(65.11 471.60) rotate(-45)" text-anchor="end" class="tk" style="font-size:8.8px">4.745</text>
<text transform="translate(93.53 471.60) rotate(-45)" text-anchor="end" class="tk" style="font-size:8.8px">4.75</text>
<text transform="translate(121.94 471.60) rotate(-45)" text-anchor="end" class="tk" style="font-size:8.8px">4.755</text>
<text transform="translate(150.35 471.60) rotate(-45)" text-anchor="end" class="tk" style="font-size:8.8px">4.76</text>
<text transform="translate(178.76 471.60) rotate(-45)" text-anchor="end" class="tk" style="font-size:8.8px">4.765</text>
<text transform="translate(207.18 471.60) rotate(-45)" text-anchor="end" class="tk" style="font-size:8.8px">4.77</text>
<text transform="translate(235.59 471.60) rotate(-45)" text-anchor="end" class="tk" style="font-size:8.8px">4.775</text>
<text transform="translate(264.00 471.60) rotate(-45)" text-anchor="end" class="tk" style="font-size:8.8px">4.78</text>
<text x="70.20" y="262.70" class="tt" textLength="164.1" lengthAdjust="spacingAndGlyphs">Flight 1479 Interval 3 - Appendix O</text>
<text x="106.10" y="497.40" class="xl" textLength="76.6" lengthAdjust="spacingAndGlyphs">Sec of Day UTC (s)</text>
<path d="M243.60 495.90L248.20 500.50M248.20 495.90L243.60 500.50" stroke="#505050" stroke-width="0.75" fill="none"/>
<text x="259.80" y="500.60" text-anchor="end" class="xl">10</text>
<text x="263.50" y="496.10" text-anchor="end" class="xl" style="font-size:7.2px">4</text>
<text x="0.60" y="278.30" class="pl">c)</text>
<text x="332.30" y="469.00" text-anchor="end" class="tk">0</text>
<text x="332.30" y="436.88" text-anchor="end" class="tk">1</text>
<text x="332.30" y="404.77" text-anchor="end" class="tk">2</text>
<text x="332.30" y="372.65" text-anchor="end" class="tk">3</text>
<text x="332.30" y="340.53" text-anchor="end" class="tk">4</text>
<text x="332.30" y="308.42" text-anchor="end" class="tk">5</text>
<text x="332.30" y="276.30" text-anchor="end" class="tk">6</text>
<text transform="translate(346.70 475.10) rotate(-45)" text-anchor="end" class="tk" style="font-size:8.8px">6.48</text>
<text transform="translate(397.60 475.10) rotate(-45)" text-anchor="end" class="tk" style="font-size:8.8px">6.49</text>
<text transform="translate(448.50 475.10) rotate(-45)" text-anchor="end" class="tk" style="font-size:8.8px">6.5</text>
<text transform="translate(499.40 475.10) rotate(-45)" text-anchor="end" class="tk" style="font-size:8.8px">6.51</text>
<text transform="translate(550.30 475.10) rotate(-45)" text-anchor="end" class="tk" style="font-size:8.8px">6.52</text>
<text x="382.00" y="262.70" class="tt" textLength="163.0" lengthAdjust="spacingAndGlyphs">Flight 1475 Interval 2 - Appendix C</text>
<text x="417.20" y="497.40" class="xl" textLength="76.6" lengthAdjust="spacingAndGlyphs">Sec of Day UTC (s)</text>
<path d="M555.00 495.90L559.60 500.50M559.60 495.90L555.00 500.50" stroke="#505050" stroke-width="0.75" fill="none"/>
<text x="571.20" y="500.60" text-anchor="end" class="xl">10</text>
<text x="574.90" y="496.10" text-anchor="end" class="xl" style="font-size:7.2px">4</text>
<text x="311.70" y="278.30" class="pl">d)</text>
<rect x="583.5" y="189.6" width="100.3" height="99.6" fill="#fff" stroke="#c8c8c8" stroke-width="0.9"/>
<path d="M584.8 195.4H601.0" fill="none" stroke="#0072bd" stroke-width="1.3"/>
<text x="602.7" y="198.6" class="lg">MVD/(10<tspan font-family="Liberation Serif" font-style="italic">&#956;</tspan>m)</text>
<path d="M584.8 205.4H601.0" fill="none" stroke="#0072bd" stroke-width="1.3" stroke-dasharray="4.2 4.2"/>
<text x="602.7" y="208.6" class="lg">Predicted MVD/(10<tspan font-family="Liberation Serif" font-style="italic">&#956;</tspan>m)</text>
<path d="M584.8 216.4H601.0" fill="none" stroke="#24a024" stroke-width="1.3"/>
<text x="602.7" y="220.5" class="lg">TWC (g/m<tspan dy="-3" font-size="6">3</tspan><tspan dy="3">)</tspan></text>
<path d="M584.8 228.9H601.0" fill="none" stroke="#24a024" stroke-width="1.8" stroke-dasharray="4.2 4.2"/>
<text x="602.7" y="232.6" class="lg">Predicted TWC (g/m<tspan dy="-3" font-size="6">3</tspan><tspan dy="3">)</tspan></text>
<path d="M584.8 239.9H601.0" fill="none" stroke="#f0bf2a" stroke-width="2.0"/>
<text x="602.7" y="242.8" class="lg"><tspan font-family="Liberation Serif" font-style="italic" font-size="9">&#946;</tspan></text>
<path d="M584.8 250.5H601.0" fill="none" stroke="#f46a3a" stroke-width="1.3"/>
<text x="602.7" y="253.5" class="lg"><tspan font-family="Liberation Serif" font-style="italic" font-size="9">&#945;</tspan></text>
<path d="M584.8 260.9H601.0" fill="none" stroke="#a5575f" stroke-width="2.0"/>
<text x="602.7" y="263.3" class="lg"><tspan font-family="Liberation Serif" font-style="italic" font-size="9">&#947;</tspan></text>
<path d="M584.8 271.1H601.0" fill="none" stroke="#5b9bd5" stroke-width="1.2" stroke-dasharray="1.2 0.6"/>
<text x="602.7" y="274.4" class="lg">RAW MVD/(10<tspan font-family="Liberation Serif" font-style="italic">&#956;</tspan>m)</text>
<path d="M584.8 282.4H601.0" fill="none" stroke="#2ca02c" stroke-width="0.9" stroke-dasharray="1.2 0.6"/>
<text x="602.7" y="286.0" class="lg">RAW TWC (g/m<tspan dy="-3" font-size="6">3</tspan><tspan dy="3">)</tspan></text>
</svg></body></html>
